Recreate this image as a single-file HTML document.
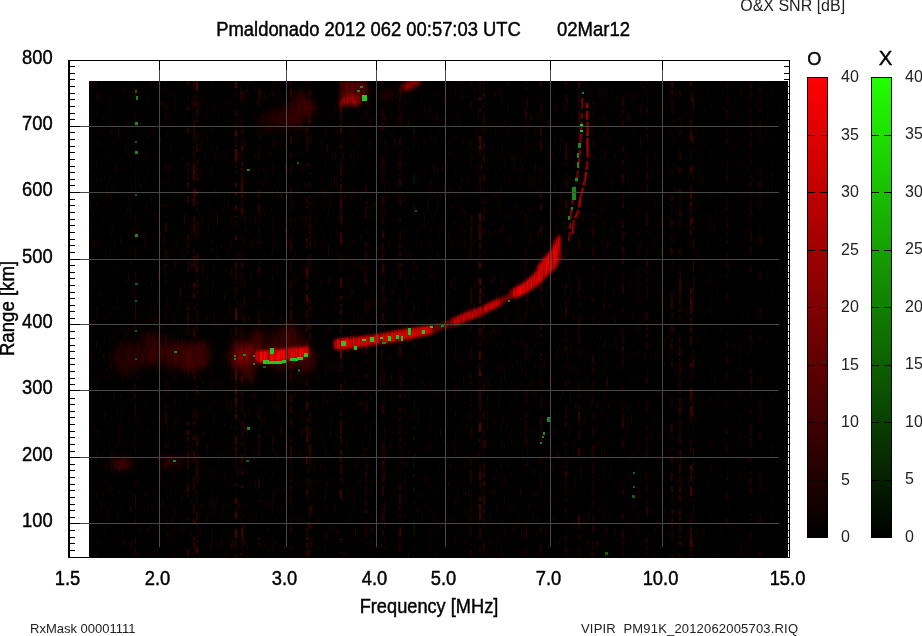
<!DOCTYPE html>
<html><head><meta charset="utf-8"><style>
html,body{margin:0;padding:0;background:#fff;width:922px;height:636px;overflow:hidden}
svg{position:absolute;left:0;top:0;will-change:transform}
text{font-family:"Liberation Sans",sans-serif}
.h{stroke:#000;stroke-width:0.4px;fill:#000}
.l{fill:#222}
</style></head><body>
<svg width="922" height="636" viewBox="0 0 922 636">
<defs>
<linearGradient id="gr" x1="0" y1="0" x2="0" y2="1"><stop offset="0" stop-color="#ff0000"/><stop offset="1" stop-color="#000000"/></linearGradient>
<linearGradient id="gg" x1="0" y1="0" x2="0" y2="1"><stop offset="0" stop-color="#22ff00"/><stop offset="1" stop-color="#000000"/></linearGradient>
<filter id="b05" x="-20%" y="-20%" width="140%" height="140%"><feGaussianBlur stdDeviation="0.5"/></filter>
<filter id="bgn" x="0" y="0" width="1" height="1" filterUnits="objectBoundingBox"><feTurbulence type="fractalNoise" baseFrequency="0.7 0.08" numOctaves="2" seed="9" result="n"/><feColorMatrix in="n" type="matrix" values="0 0 0 0 0.28  0 0 0 0 0  0 0 0 0 0  1.6 0 0 0 -1.0"/><feComposite in2="SourceGraphic" operator="in"/></filter>
<filter id="b07" x="-20%" y="-20%" width="140%" height="140%"><feGaussianBlur stdDeviation="0.7"/></filter>
<filter id="b1" x="-20%" y="-20%" width="140%" height="140%"><feGaussianBlur stdDeviation="1"/></filter>
<filter id="b12" x="-20%" y="-20%" width="140%" height="140%"><feGaussianBlur stdDeviation="1.2"/></filter>
<filter id="b15" x="-20%" y="-20%" width="140%" height="140%"><feGaussianBlur stdDeviation="1.5"/></filter>
<filter id="b2" x="-30%" y="-30%" width="160%" height="160%"><feGaussianBlur stdDeviation="2"/></filter>
<filter id="b3" x="-30%" y="-30%" width="160%" height="160%"><feGaussianBlur stdDeviation="3"/></filter>
<filter id="b4" x="-40%" y="-40%" width="180%" height="180%"><feGaussianBlur stdDeviation="4"/></filter>
<filter id="tex" x="0" y="0" width="1" height="1" filterUnits="objectBoundingBox"><feTurbulence type="fractalNoise" baseFrequency="0.8 0.06" numOctaves="1" seed="5" result="n"/><feColorMatrix in="n" type="matrix" values="0 0 0 0 0  0 0 0 0 0  0 0 0 0 0  1.3 0 0 0 -0.5"/></filter>
<linearGradient id="nm" x1="0" y1="0" x2="1" y2="0"><stop offset="0" stop-color="#fff"/><stop offset="0.7" stop-color="#fff"/><stop offset="1" stop-color="#555"/></linearGradient>
<mask id="nmask" maskUnits="userSpaceOnUse" x="89" y="81" width="699" height="477"><rect x="89" y="81" width="699" height="477" fill="url(#nm)"/></mask>
<clipPath id="dc"><rect x="89" y="81" width="699" height="477"/></clipPath>
</defs>

<text class="h" transform="translate(216.3,35.9) scale(1.022,1.09)" font-size="18" text-anchor="start" >Pmaldonado 2012 062 00:57:03 UTC</text>
<text class="h" transform="translate(557,35.9) scale(1.03,1.09)" font-size="18" text-anchor="start" >02Mar12</text>
<text class="l" transform="translate(740.2,10.6) scale(1.0,1.0)" font-size="16" text-anchor="start" >O&amp;X SNR [dB]</text>
<rect x="89" y="81" width="699" height="477" fill="#000"/>
<g clip-path="url(#dc)">
<rect x="89" y="81" width="699" height="477" fill="#6a0000" filter="url(#bgn)" mask="url(#nmask)"/>
<g filter="url(#b05)">
<rect x="96" y="81" width="1" height="7" fill="#001200"/>
<rect x="96" y="112" width="1" height="2" fill="#000f00"/>
<rect x="96" y="160" width="1" height="8" fill="#000e00"/>
<rect x="96" y="242" width="1" height="3" fill="#000f00"/>
<rect x="96" y="307" width="1" height="8" fill="#001100"/>
<rect x="96" y="324" width="1" height="6" fill="#001000"/>
<rect x="96" y="341" width="1" height="8" fill="#001200"/>
<rect x="96" y="381" width="1" height="9" fill="#001100"/>
<rect x="96" y="430" width="1" height="3" fill="#001200"/>
<rect x="96" y="433" width="1" height="3" fill="#001000"/>
<rect x="96" y="452" width="1" height="9" fill="#001300"/>
<rect x="96" y="494" width="1" height="6" fill="#001300"/>
<rect x="96" y="507" width="1" height="7" fill="#000e00"/>
<rect x="96" y="522" width="1" height="5" fill="#000f00"/>
<rect x="96" y="535" width="1" height="2" fill="#001300"/>
<rect x="96" y="550" width="1" height="9" fill="#000f00"/>
<rect x="110" y="100" width="1" height="9" fill="#001100"/>
<rect x="110" y="111" width="1" height="3" fill="#000f00"/>
<rect x="110" y="114" width="1" height="8" fill="#000e00"/>
<rect x="110" y="123" width="1" height="9" fill="#001100"/>
<rect x="110" y="207" width="1" height="2" fill="#001100"/>
<rect x="110" y="227" width="1" height="9" fill="#000e00"/>
<rect x="110" y="248" width="1" height="9" fill="#000e00"/>
<rect x="110" y="261" width="1" height="2" fill="#000e00"/>
<rect x="110" y="294" width="1" height="5" fill="#000f00"/>
<rect x="110" y="329" width="1" height="3" fill="#001100"/>
<rect x="110" y="350" width="1" height="8" fill="#001000"/>
<rect x="110" y="420" width="1" height="2" fill="#001100"/>
<rect x="110" y="452" width="1" height="6" fill="#001200"/>
<rect x="110" y="486" width="1" height="5" fill="#001200"/>
<rect x="135" y="89" width="1" height="8" fill="#320000"/>
<rect x="135" y="111" width="1" height="8" fill="#2b0000"/>
<rect x="135" y="121" width="1" height="5" fill="#200000"/>
<rect x="135" y="148" width="1" height="7" fill="#310000"/>
<rect x="135" y="179" width="1" height="6" fill="#160000"/>
<rect x="135" y="186" width="1" height="5" fill="#160000"/>
<rect x="135" y="214" width="1" height="8" fill="#240000"/>
<rect x="135" y="230" width="1" height="2" fill="#280000"/>
<rect x="135" y="235" width="1" height="4" fill="#2d0000"/>
<rect x="135" y="244" width="1" height="4" fill="#1d0000"/>
<rect x="135" y="248" width="1" height="8" fill="#290000"/>
<rect x="135" y="256" width="1" height="2" fill="#1d0000"/>
<rect x="135" y="271" width="1" height="3" fill="#240000"/>
<rect x="135" y="274" width="1" height="3" fill="#230000"/>
<rect x="135" y="280" width="1" height="6" fill="#270000"/>
<rect x="135" y="288" width="1" height="5" fill="#220000"/>
<rect x="135" y="294" width="1" height="5" fill="#230000"/>
<rect x="135" y="302" width="1" height="9" fill="#290000"/>
<rect x="135" y="311" width="1" height="9" fill="#2d0000"/>
<rect x="135" y="322" width="1" height="2" fill="#1c0000"/>
<rect x="135" y="325" width="1" height="3" fill="#1b0000"/>
<rect x="135" y="330" width="1" height="6" fill="#1e0000"/>
<rect x="135" y="351" width="1" height="5" fill="#1f0000"/>
<rect x="135" y="358" width="1" height="6" fill="#140000"/>
<rect x="135" y="367" width="1" height="3" fill="#320000"/>
<rect x="135" y="371" width="1" height="6" fill="#310000"/>
<rect x="135" y="382" width="1" height="9" fill="#320000"/>
<rect x="135" y="394" width="1" height="5" fill="#2d0000"/>
<rect x="135" y="400" width="1" height="3" fill="#1a0000"/>
<rect x="135" y="404" width="1" height="6" fill="#300000"/>
<rect x="135" y="411" width="1" height="6" fill="#2c0000"/>
<rect x="135" y="419" width="1" height="5" fill="#160000"/>
<rect x="135" y="435" width="1" height="9" fill="#200000"/>
<rect x="135" y="447" width="1" height="6" fill="#220000"/>
<rect x="135" y="481" width="1" height="2" fill="#2d0000"/>
<rect x="135" y="494" width="1" height="8" fill="#320000"/>
<rect x="135" y="502" width="1" height="7" fill="#2e0000"/>
<rect x="135" y="513" width="1" height="6" fill="#1d0000"/>
<rect x="135" y="520" width="1" height="5" fill="#310000"/>
<rect x="135" y="537" width="1" height="8" fill="#2c0000"/>
<rect x="135" y="548" width="1" height="5" fill="#220000"/>
<rect x="135" y="553" width="1" height="8" fill="#130000"/>
<rect x="165" y="81" width="2" height="6" fill="#120000"/>
<rect x="165" y="88" width="2" height="4" fill="#120000"/>
<rect x="165" y="102" width="2" height="8" fill="#1b0000"/>
<rect x="165" y="112" width="2" height="9" fill="#160000"/>
<rect x="165" y="163" width="2" height="6" fill="#220000"/>
<rect x="165" y="170" width="2" height="2" fill="#1f0000"/>
<rect x="165" y="203" width="2" height="4" fill="#1c0000"/>
<rect x="165" y="223" width="2" height="8" fill="#2a0000"/>
<rect x="165" y="250" width="2" height="9" fill="#2b0000"/>
<rect x="165" y="264" width="2" height="3" fill="#290000"/>
<rect x="165" y="270" width="2" height="3" fill="#150000"/>
<rect x="165" y="273" width="2" height="2" fill="#210000"/>
<rect x="165" y="276" width="2" height="2" fill="#1a0000"/>
<rect x="165" y="280" width="2" height="4" fill="#190000"/>
<rect x="165" y="313" width="2" height="5" fill="#120000"/>
<rect x="165" y="334" width="2" height="9" fill="#260000"/>
<rect x="165" y="359" width="2" height="7" fill="#1e0000"/>
<rect x="165" y="382" width="2" height="6" fill="#200000"/>
<rect x="165" y="389" width="2" height="5" fill="#110000"/>
<rect x="165" y="405" width="2" height="4" fill="#270000"/>
<rect x="165" y="412" width="2" height="8" fill="#280000"/>
<rect x="165" y="420" width="2" height="4" fill="#280000"/>
<rect x="165" y="444" width="2" height="3" fill="#2c0000"/>
<rect x="165" y="463" width="2" height="7" fill="#2c0000"/>
<rect x="165" y="486" width="2" height="3" fill="#160000"/>
<rect x="165" y="527" width="2" height="2" fill="#190000"/>
<rect x="175" y="91" width="1" height="2" fill="#180000"/>
<rect x="175" y="93" width="1" height="9" fill="#140000"/>
<rect x="175" y="105" width="1" height="8" fill="#170000"/>
<rect x="175" y="169" width="1" height="4" fill="#1d0000"/>
<rect x="175" y="203" width="1" height="3" fill="#160000"/>
<rect x="175" y="246" width="1" height="6" fill="#1e0000"/>
<rect x="175" y="253" width="1" height="3" fill="#120000"/>
<rect x="175" y="260" width="1" height="9" fill="#1b0000"/>
<rect x="175" y="315" width="1" height="2" fill="#180000"/>
<rect x="175" y="344" width="1" height="8" fill="#120000"/>
<rect x="175" y="353" width="1" height="3" fill="#120000"/>
<rect x="175" y="373" width="1" height="6" fill="#150000"/>
<rect x="175" y="399" width="1" height="5" fill="#1c0000"/>
<rect x="175" y="421" width="1" height="9" fill="#160000"/>
<rect x="175" y="476" width="1" height="3" fill="#1b0000"/>
<rect x="175" y="508" width="1" height="5" fill="#1d0000"/>
<rect x="175" y="514" width="1" height="2" fill="#1a0000"/>
<rect x="175" y="526" width="1" height="6" fill="#120000"/>
<rect x="187" y="81" width="2" height="4" fill="#320000"/>
<rect x="187" y="93" width="2" height="8" fill="#130000"/>
<rect x="187" y="107" width="2" height="3" fill="#3b0000"/>
<rect x="187" y="128" width="2" height="6" fill="#3d0000"/>
<rect x="187" y="162" width="2" height="5" fill="#220000"/>
<rect x="187" y="168" width="2" height="7" fill="#130000"/>
<rect x="187" y="176" width="2" height="4" fill="#150000"/>
<rect x="187" y="182" width="2" height="7" fill="#390000"/>
<rect x="187" y="196" width="2" height="7" fill="#3e0000"/>
<rect x="187" y="221" width="2" height="4" fill="#130000"/>
<rect x="187" y="234" width="2" height="6" fill="#330000"/>
<rect x="187" y="242" width="2" height="6" fill="#260000"/>
<rect x="187" y="250" width="2" height="2" fill="#2e0000"/>
<rect x="187" y="260" width="2" height="8" fill="#1d0000"/>
<rect x="187" y="268" width="2" height="4" fill="#1b0000"/>
<rect x="187" y="284" width="2" height="5" fill="#160000"/>
<rect x="187" y="303" width="2" height="4" fill="#190000"/>
<rect x="187" y="307" width="2" height="4" fill="#370000"/>
<rect x="187" y="313" width="2" height="8" fill="#320000"/>
<rect x="187" y="321" width="2" height="2" fill="#260000"/>
<rect x="187" y="325" width="2" height="9" fill="#230000"/>
<rect x="187" y="353" width="2" height="2" fill="#3a0000"/>
<rect x="187" y="355" width="2" height="2" fill="#240000"/>
<rect x="187" y="358" width="2" height="4" fill="#160000"/>
<rect x="187" y="365" width="2" height="4" fill="#1d0000"/>
<rect x="187" y="369" width="2" height="6" fill="#250000"/>
<rect x="187" y="378" width="2" height="2" fill="#140000"/>
<rect x="187" y="422" width="2" height="3" fill="#370000"/>
<rect x="187" y="430" width="2" height="5" fill="#3c0000"/>
<rect x="187" y="437" width="2" height="5" fill="#380000"/>
<rect x="187" y="444" width="2" height="5" fill="#140000"/>
<rect x="187" y="452" width="2" height="9" fill="#340000"/>
<rect x="187" y="461" width="2" height="2" fill="#180000"/>
<rect x="187" y="464" width="2" height="6" fill="#310000"/>
<rect x="187" y="473" width="2" height="3" fill="#200000"/>
<rect x="187" y="481" width="2" height="3" fill="#240000"/>
<rect x="187" y="485" width="2" height="7" fill="#3f0000"/>
<rect x="187" y="494" width="2" height="3" fill="#2d0000"/>
<rect x="187" y="518" width="2" height="3" fill="#330000"/>
<rect x="187" y="549" width="2" height="6" fill="#3b0000"/>
<rect x="187" y="555" width="2" height="7" fill="#3a0000"/>
<rect x="193" y="81" width="2" height="6" fill="#2d0000"/>
<rect x="193" y="95" width="2" height="7" fill="#200000"/>
<rect x="193" y="102" width="2" height="5" fill="#360000"/>
<rect x="193" y="113" width="2" height="5" fill="#120000"/>
<rect x="193" y="118" width="2" height="2" fill="#160000"/>
<rect x="193" y="120" width="2" height="9" fill="#340000"/>
<rect x="193" y="130" width="2" height="9" fill="#2b0000"/>
<rect x="193" y="141" width="2" height="4" fill="#110000"/>
<rect x="193" y="146" width="2" height="5" fill="#230000"/>
<rect x="193" y="151" width="2" height="3" fill="#220000"/>
<rect x="193" y="154" width="2" height="7" fill="#170000"/>
<rect x="193" y="164" width="2" height="8" fill="#470000"/>
<rect x="193" y="172" width="2" height="8" fill="#460000"/>
<rect x="193" y="189" width="2" height="8" fill="#480000"/>
<rect x="193" y="198" width="2" height="8" fill="#4f0000"/>
<rect x="193" y="216" width="2" height="7" fill="#2a0000"/>
<rect x="193" y="224" width="2" height="9" fill="#310000"/>
<rect x="193" y="235" width="2" height="4" fill="#200000"/>
<rect x="193" y="249" width="2" height="5" fill="#240000"/>
<rect x="193" y="256" width="2" height="6" fill="#3a0000"/>
<rect x="193" y="263" width="2" height="4" fill="#4f0000"/>
<rect x="193" y="283" width="2" height="4" fill="#4d0000"/>
<rect x="193" y="287" width="2" height="5" fill="#190000"/>
<rect x="193" y="293" width="2" height="6" fill="#380000"/>
<rect x="193" y="329" width="2" height="8" fill="#340000"/>
<rect x="193" y="359" width="2" height="8" fill="#350000"/>
<rect x="193" y="370" width="2" height="5" fill="#320000"/>
<rect x="193" y="376" width="2" height="4" fill="#2f0000"/>
<rect x="193" y="383" width="2" height="8" fill="#140000"/>
<rect x="193" y="409" width="2" height="9" fill="#1f0000"/>
<rect x="193" y="421" width="2" height="4" fill="#470000"/>
<rect x="193" y="427" width="2" height="2" fill="#1a0000"/>
<rect x="193" y="436" width="2" height="4" fill="#360000"/>
<rect x="193" y="451" width="2" height="5" fill="#360000"/>
<rect x="193" y="456" width="2" height="7" fill="#250000"/>
<rect x="193" y="476" width="2" height="8" fill="#240000"/>
<rect x="193" y="484" width="2" height="7" fill="#2f0000"/>
<rect x="193" y="493" width="2" height="6" fill="#190000"/>
<rect x="193" y="504" width="2" height="7" fill="#2a0000"/>
<rect x="193" y="511" width="2" height="5" fill="#130000"/>
<rect x="193" y="519" width="2" height="5" fill="#510000"/>
<rect x="193" y="537" width="2" height="3" fill="#3f0000"/>
<rect x="193" y="541" width="2" height="9" fill="#2f0000"/>
<rect x="193" y="551" width="2" height="4" fill="#170000"/>
<rect x="196" y="81" width="2" height="9" fill="#510000"/>
<rect x="196" y="91" width="2" height="9" fill="#170000"/>
<rect x="196" y="101" width="2" height="6" fill="#350000"/>
<rect x="196" y="109" width="2" height="8" fill="#330000"/>
<rect x="196" y="120" width="2" height="2" fill="#3e0000"/>
<rect x="196" y="133" width="2" height="7" fill="#210000"/>
<rect x="196" y="143" width="2" height="3" fill="#310000"/>
<rect x="196" y="148" width="2" height="4" fill="#4a0000"/>
<rect x="196" y="159" width="2" height="4" fill="#260000"/>
<rect x="196" y="165" width="2" height="2" fill="#310000"/>
<rect x="196" y="168" width="2" height="3" fill="#310000"/>
<rect x="196" y="173" width="2" height="3" fill="#2a0000"/>
<rect x="196" y="177" width="2" height="4" fill="#3c0000"/>
<rect x="196" y="190" width="2" height="4" fill="#2d0000"/>
<rect x="196" y="201" width="2" height="3" fill="#390000"/>
<rect x="196" y="207" width="2" height="3" fill="#280000"/>
<rect x="196" y="221" width="2" height="9" fill="#220000"/>
<rect x="196" y="230" width="2" height="9" fill="#200000"/>
<rect x="196" y="254" width="2" height="9" fill="#340000"/>
<rect x="196" y="266" width="2" height="6" fill="#420000"/>
<rect x="196" y="274" width="2" height="8" fill="#1c0000"/>
<rect x="196" y="282" width="2" height="4" fill="#2f0000"/>
<rect x="196" y="286" width="2" height="2" fill="#2d0000"/>
<rect x="196" y="290" width="2" height="3" fill="#240000"/>
<rect x="196" y="303" width="2" height="4" fill="#160000"/>
<rect x="196" y="309" width="2" height="7" fill="#210000"/>
<rect x="196" y="317" width="2" height="6" fill="#1e0000"/>
<rect x="196" y="326" width="2" height="6" fill="#280000"/>
<rect x="196" y="334" width="2" height="6" fill="#170000"/>
<rect x="196" y="343" width="2" height="8" fill="#150000"/>
<rect x="196" y="353" width="2" height="7" fill="#4f0000"/>
<rect x="196" y="363" width="2" height="3" fill="#150000"/>
<rect x="196" y="374" width="2" height="2" fill="#1b0000"/>
<rect x="196" y="379" width="2" height="2" fill="#1b0000"/>
<rect x="196" y="386" width="2" height="2" fill="#3d0000"/>
<rect x="196" y="391" width="2" height="4" fill="#2e0000"/>
<rect x="196" y="408" width="2" height="2" fill="#1c0000"/>
<rect x="196" y="410" width="2" height="2" fill="#180000"/>
<rect x="196" y="413" width="2" height="6" fill="#280000"/>
<rect x="196" y="434" width="2" height="9" fill="#290000"/>
<rect x="196" y="443" width="2" height="3" fill="#3b0000"/>
<rect x="196" y="449" width="2" height="8" fill="#1f0000"/>
<rect x="196" y="457" width="2" height="8" fill="#2b0000"/>
<rect x="196" y="466" width="2" height="9" fill="#3b0000"/>
<rect x="196" y="475" width="2" height="3" fill="#300000"/>
<rect x="196" y="479" width="2" height="4" fill="#2e0000"/>
<rect x="196" y="491" width="2" height="4" fill="#210000"/>
<rect x="196" y="497" width="2" height="5" fill="#1f0000"/>
<rect x="196" y="503" width="2" height="2" fill="#180000"/>
<rect x="196" y="506" width="2" height="3" fill="#120000"/>
<rect x="196" y="512" width="2" height="9" fill="#320000"/>
<rect x="196" y="523" width="2" height="2" fill="#360000"/>
<rect x="196" y="527" width="2" height="8" fill="#140000"/>
<rect x="196" y="536" width="2" height="9" fill="#2c0000"/>
<rect x="196" y="547" width="2" height="7" fill="#4c0000"/>
<rect x="212" y="81" width="1" height="9" fill="#140000"/>
<rect x="212" y="106" width="1" height="6" fill="#180000"/>
<rect x="212" y="122" width="1" height="2" fill="#1a0000"/>
<rect x="212" y="126" width="1" height="8" fill="#1f0000"/>
<rect x="212" y="146" width="1" height="5" fill="#190000"/>
<rect x="212" y="165" width="1" height="6" fill="#1a0000"/>
<rect x="212" y="172" width="1" height="6" fill="#1f0000"/>
<rect x="212" y="200" width="1" height="6" fill="#110000"/>
<rect x="212" y="209" width="1" height="9" fill="#150000"/>
<rect x="212" y="220" width="1" height="2" fill="#180000"/>
<rect x="212" y="248" width="1" height="4" fill="#190000"/>
<rect x="212" y="263" width="1" height="8" fill="#180000"/>
<rect x="212" y="280" width="1" height="7" fill="#1b0000"/>
<rect x="212" y="289" width="1" height="9" fill="#180000"/>
<rect x="212" y="363" width="1" height="9" fill="#1e0000"/>
<rect x="212" y="372" width="1" height="8" fill="#1d0000"/>
<rect x="212" y="387" width="1" height="3" fill="#1e0000"/>
<rect x="212" y="398" width="1" height="7" fill="#1f0000"/>
<rect x="212" y="428" width="1" height="2" fill="#1e0000"/>
<rect x="212" y="432" width="1" height="9" fill="#170000"/>
<rect x="212" y="472" width="1" height="4" fill="#1d0000"/>
<rect x="212" y="476" width="1" height="9" fill="#150000"/>
<rect x="212" y="489" width="1" height="3" fill="#1e0000"/>
<rect x="212" y="494" width="1" height="4" fill="#180000"/>
<rect x="212" y="498" width="1" height="8" fill="#1a0000"/>
<rect x="212" y="506" width="1" height="9" fill="#1f0000"/>
<rect x="212" y="528" width="1" height="4" fill="#150000"/>
<rect x="212" y="533" width="1" height="9" fill="#1b0000"/>
<rect x="235" y="81" width="2" height="7" fill="#4e0000"/>
<rect x="235" y="111" width="2" height="5" fill="#320000"/>
<rect x="235" y="118" width="2" height="3" fill="#140000"/>
<rect x="235" y="122" width="2" height="7" fill="#250000"/>
<rect x="235" y="131" width="2" height="5" fill="#5c0000"/>
<rect x="235" y="136" width="2" height="8" fill="#170000"/>
<rect x="235" y="145" width="2" height="2" fill="#510000"/>
<rect x="235" y="149" width="2" height="4" fill="#630000"/>
<rect x="235" y="153" width="2" height="9" fill="#4e0000"/>
<rect x="235" y="164" width="2" height="4" fill="#260000"/>
<rect x="235" y="170" width="2" height="4" fill="#1d0000"/>
<rect x="235" y="183" width="2" height="4" fill="#530000"/>
<rect x="235" y="192" width="2" height="3" fill="#580000"/>
<rect x="235" y="205" width="2" height="5" fill="#350000"/>
<rect x="235" y="216" width="2" height="2" fill="#2e0000"/>
<rect x="235" y="220" width="2" height="7" fill="#160000"/>
<rect x="235" y="236" width="2" height="4" fill="#560000"/>
<rect x="235" y="253" width="2" height="2" fill="#1d0000"/>
<rect x="235" y="262" width="2" height="7" fill="#4b0000"/>
<rect x="235" y="272" width="2" height="2" fill="#170000"/>
<rect x="235" y="274" width="2" height="9" fill="#260000"/>
<rect x="235" y="287" width="2" height="5" fill="#390000"/>
<rect x="235" y="293" width="2" height="3" fill="#190000"/>
<rect x="235" y="308" width="2" height="5" fill="#420000"/>
<rect x="235" y="313" width="2" height="7" fill="#560000"/>
<rect x="235" y="321" width="2" height="2" fill="#150000"/>
<rect x="235" y="326" width="2" height="9" fill="#350000"/>
<rect x="235" y="343" width="2" height="4" fill="#300000"/>
<rect x="235" y="364" width="2" height="8" fill="#410000"/>
<rect x="235" y="372" width="2" height="8" fill="#620000"/>
<rect x="235" y="380" width="2" height="7" fill="#1b0000"/>
<rect x="235" y="388" width="2" height="7" fill="#440000"/>
<rect x="235" y="397" width="2" height="8" fill="#530000"/>
<rect x="235" y="405" width="2" height="7" fill="#2e0000"/>
<rect x="235" y="414" width="2" height="5" fill="#560000"/>
<rect x="235" y="427" width="2" height="3" fill="#1a0000"/>
<rect x="235" y="436" width="2" height="8" fill="#4b0000"/>
<rect x="235" y="447" width="2" height="2" fill="#4f0000"/>
<rect x="235" y="449" width="2" height="2" fill="#550000"/>
<rect x="235" y="453" width="2" height="6" fill="#3a0000"/>
<rect x="235" y="459" width="2" height="3" fill="#130000"/>
<rect x="235" y="462" width="2" height="8" fill="#120000"/>
<rect x="235" y="484" width="2" height="3" fill="#280000"/>
<rect x="235" y="498" width="2" height="6" fill="#5b0000"/>
<rect x="235" y="506" width="2" height="6" fill="#120000"/>
<rect x="235" y="512" width="2" height="6" fill="#520000"/>
<rect x="235" y="529" width="2" height="9" fill="#580000"/>
<rect x="235" y="540" width="2" height="9" fill="#290000"/>
<rect x="235" y="551" width="2" height="2" fill="#120000"/>
<rect x="235" y="554" width="2" height="5" fill="#2d0000"/>
<rect x="241" y="91" width="2" height="4" fill="#400000"/>
<rect x="241" y="96" width="2" height="7" fill="#260000"/>
<rect x="241" y="119" width="2" height="4" fill="#250000"/>
<rect x="241" y="125" width="2" height="9" fill="#2e0000"/>
<rect x="241" y="137" width="2" height="9" fill="#160000"/>
<rect x="241" y="146" width="2" height="5" fill="#4c0000"/>
<rect x="241" y="152" width="2" height="8" fill="#150000"/>
<rect x="241" y="162" width="2" height="4" fill="#300000"/>
<rect x="241" y="168" width="2" height="3" fill="#350000"/>
<rect x="241" y="174" width="2" height="6" fill="#390000"/>
<rect x="241" y="181" width="2" height="8" fill="#410000"/>
<rect x="241" y="189" width="2" height="8" fill="#380000"/>
<rect x="241" y="197" width="2" height="9" fill="#190000"/>
<rect x="241" y="207" width="2" height="8" fill="#3f0000"/>
<rect x="241" y="217" width="2" height="3" fill="#180000"/>
<rect x="241" y="234" width="2" height="6" fill="#160000"/>
<rect x="241" y="253" width="2" height="8" fill="#1d0000"/>
<rect x="241" y="262" width="2" height="6" fill="#3b0000"/>
<rect x="241" y="271" width="2" height="8" fill="#280000"/>
<rect x="241" y="279" width="2" height="7" fill="#140000"/>
<rect x="241" y="301" width="2" height="9" fill="#120000"/>
<rect x="241" y="312" width="2" height="8" fill="#230000"/>
<rect x="241" y="323" width="2" height="8" fill="#1e0000"/>
<rect x="241" y="331" width="2" height="7" fill="#1d0000"/>
<rect x="241" y="338" width="2" height="3" fill="#230000"/>
<rect x="241" y="341" width="2" height="8" fill="#170000"/>
<rect x="241" y="352" width="2" height="4" fill="#420000"/>
<rect x="241" y="359" width="2" height="9" fill="#190000"/>
<rect x="241" y="375" width="2" height="7" fill="#4b0000"/>
<rect x="241" y="390" width="2" height="7" fill="#3d0000"/>
<rect x="241" y="400" width="2" height="4" fill="#230000"/>
<rect x="241" y="405" width="2" height="5" fill="#1a0000"/>
<rect x="241" y="410" width="2" height="3" fill="#160000"/>
<rect x="241" y="421" width="2" height="6" fill="#330000"/>
<rect x="241" y="427" width="2" height="6" fill="#190000"/>
<rect x="241" y="433" width="2" height="2" fill="#2f0000"/>
<rect x="241" y="436" width="2" height="4" fill="#210000"/>
<rect x="241" y="442" width="2" height="4" fill="#270000"/>
<rect x="241" y="455" width="2" height="9" fill="#3d0000"/>
<rect x="241" y="467" width="2" height="2" fill="#2e0000"/>
<rect x="241" y="471" width="2" height="4" fill="#330000"/>
<rect x="241" y="485" width="2" height="3" fill="#400000"/>
<rect x="241" y="503" width="2" height="2" fill="#1c0000"/>
<rect x="241" y="512" width="2" height="4" fill="#130000"/>
<rect x="241" y="519" width="2" height="6" fill="#1b0000"/>
<rect x="241" y="527" width="2" height="9" fill="#4b0000"/>
<rect x="241" y="536" width="2" height="5" fill="#300000"/>
<rect x="241" y="542" width="2" height="8" fill="#120000"/>
<rect x="241" y="553" width="2" height="2" fill="#3a0000"/>
<rect x="244" y="91" width="1" height="8" fill="#1c0000"/>
<rect x="244" y="99" width="1" height="7" fill="#1a0000"/>
<rect x="244" y="109" width="1" height="7" fill="#130000"/>
<rect x="244" y="116" width="1" height="3" fill="#140000"/>
<rect x="244" y="121" width="1" height="5" fill="#120000"/>
<rect x="244" y="140" width="1" height="7" fill="#2c0000"/>
<rect x="244" y="154" width="1" height="4" fill="#1c0000"/>
<rect x="244" y="168" width="1" height="5" fill="#260000"/>
<rect x="244" y="192" width="1" height="4" fill="#350000"/>
<rect x="244" y="198" width="1" height="9" fill="#1e0000"/>
<rect x="244" y="209" width="1" height="5" fill="#130000"/>
<rect x="244" y="215" width="1" height="4" fill="#300000"/>
<rect x="244" y="219" width="1" height="3" fill="#1b0000"/>
<rect x="244" y="239" width="1" height="4" fill="#2a0000"/>
<rect x="244" y="251" width="1" height="3" fill="#1c0000"/>
<rect x="244" y="279" width="1" height="9" fill="#2a0000"/>
<rect x="244" y="297" width="1" height="7" fill="#320000"/>
<rect x="244" y="316" width="1" height="7" fill="#320000"/>
<rect x="244" y="329" width="1" height="5" fill="#260000"/>
<rect x="244" y="353" width="1" height="4" fill="#110000"/>
<rect x="244" y="357" width="1" height="6" fill="#200000"/>
<rect x="244" y="364" width="1" height="5" fill="#1d0000"/>
<rect x="244" y="371" width="1" height="8" fill="#230000"/>
<rect x="244" y="385" width="1" height="2" fill="#300000"/>
<rect x="244" y="387" width="1" height="5" fill="#240000"/>
<rect x="244" y="401" width="1" height="3" fill="#140000"/>
<rect x="244" y="412" width="1" height="7" fill="#350000"/>
<rect x="244" y="422" width="1" height="9" fill="#340000"/>
<rect x="244" y="434" width="1" height="2" fill="#230000"/>
<rect x="244" y="437" width="1" height="8" fill="#230000"/>
<rect x="244" y="446" width="1" height="9" fill="#290000"/>
<rect x="244" y="462" width="1" height="5" fill="#1b0000"/>
<rect x="244" y="499" width="1" height="2" fill="#190000"/>
<rect x="244" y="504" width="1" height="4" fill="#340000"/>
<rect x="244" y="522" width="1" height="8" fill="#290000"/>
<rect x="244" y="531" width="1" height="4" fill="#1e0000"/>
<rect x="244" y="538" width="1" height="8" fill="#2d0000"/>
<rect x="258" y="89" width="2" height="9" fill="#300000"/>
<rect x="258" y="99" width="2" height="7" fill="#130000"/>
<rect x="258" y="119" width="2" height="3" fill="#230000"/>
<rect x="258" y="133" width="2" height="8" fill="#150000"/>
<rect x="258" y="145" width="2" height="6" fill="#1d0000"/>
<rect x="258" y="158" width="2" height="2" fill="#250000"/>
<rect x="258" y="168" width="2" height="3" fill="#260000"/>
<rect x="258" y="190" width="2" height="7" fill="#290000"/>
<rect x="258" y="204" width="2" height="8" fill="#2d0000"/>
<rect x="258" y="213" width="2" height="9" fill="#120000"/>
<rect x="258" y="223" width="2" height="6" fill="#1b0000"/>
<rect x="258" y="229" width="2" height="4" fill="#200000"/>
<rect x="258" y="234" width="2" height="4" fill="#130000"/>
<rect x="258" y="241" width="2" height="3" fill="#310000"/>
<rect x="258" y="267" width="2" height="8" fill="#2c0000"/>
<rect x="258" y="289" width="2" height="9" fill="#270000"/>
<rect x="258" y="300" width="2" height="5" fill="#140000"/>
<rect x="258" y="307" width="2" height="9" fill="#120000"/>
<rect x="258" y="317" width="2" height="8" fill="#300000"/>
<rect x="258" y="325" width="2" height="2" fill="#220000"/>
<rect x="258" y="329" width="2" height="6" fill="#190000"/>
<rect x="258" y="338" width="2" height="7" fill="#150000"/>
<rect x="258" y="346" width="2" height="6" fill="#2a0000"/>
<rect x="258" y="411" width="2" height="5" fill="#180000"/>
<rect x="258" y="416" width="2" height="3" fill="#2a0000"/>
<rect x="258" y="428" width="2" height="3" fill="#140000"/>
<rect x="258" y="434" width="2" height="4" fill="#310000"/>
<rect x="258" y="439" width="2" height="9" fill="#250000"/>
<rect x="258" y="449" width="2" height="7" fill="#250000"/>
<rect x="258" y="479" width="2" height="8" fill="#2d0000"/>
<rect x="258" y="487" width="2" height="5" fill="#190000"/>
<rect x="258" y="500" width="2" height="2" fill="#280000"/>
<rect x="258" y="538" width="2" height="2" fill="#290000"/>
<rect x="258" y="543" width="2" height="3" fill="#260000"/>
<rect x="272" y="81" width="1" height="8" fill="#1d0000"/>
<rect x="272" y="91" width="1" height="6" fill="#220000"/>
<rect x="272" y="114" width="1" height="9" fill="#230000"/>
<rect x="272" y="142" width="1" height="6" fill="#200000"/>
<rect x="272" y="167" width="1" height="8" fill="#210000"/>
<rect x="272" y="190" width="1" height="9" fill="#1f0000"/>
<rect x="272" y="199" width="1" height="4" fill="#190000"/>
<rect x="272" y="217" width="1" height="2" fill="#210000"/>
<rect x="272" y="219" width="1" height="5" fill="#1b0000"/>
<rect x="272" y="224" width="1" height="7" fill="#1b0000"/>
<rect x="272" y="232" width="1" height="4" fill="#170000"/>
<rect x="272" y="238" width="1" height="7" fill="#190000"/>
<rect x="272" y="246" width="1" height="7" fill="#1f0000"/>
<rect x="272" y="265" width="1" height="7" fill="#1f0000"/>
<rect x="272" y="275" width="1" height="7" fill="#200000"/>
<rect x="272" y="291" width="1" height="2" fill="#1f0000"/>
<rect x="272" y="306" width="1" height="4" fill="#130000"/>
<rect x="272" y="311" width="1" height="6" fill="#180000"/>
<rect x="272" y="327" width="1" height="3" fill="#130000"/>
<rect x="272" y="332" width="1" height="7" fill="#240000"/>
<rect x="272" y="341" width="1" height="8" fill="#180000"/>
<rect x="272" y="359" width="1" height="6" fill="#200000"/>
<rect x="272" y="365" width="1" height="4" fill="#140000"/>
<rect x="272" y="389" width="1" height="4" fill="#130000"/>
<rect x="272" y="393" width="1" height="3" fill="#1c0000"/>
<rect x="272" y="404" width="1" height="2" fill="#150000"/>
<rect x="272" y="433" width="1" height="9" fill="#240000"/>
<rect x="272" y="445" width="1" height="6" fill="#220000"/>
<rect x="272" y="451" width="1" height="2" fill="#210000"/>
<rect x="272" y="469" width="1" height="7" fill="#1c0000"/>
<rect x="272" y="496" width="1" height="9" fill="#1a0000"/>
<rect x="272" y="507" width="1" height="9" fill="#120000"/>
<rect x="272" y="535" width="1" height="4" fill="#240000"/>
<rect x="272" y="540" width="1" height="8" fill="#1a0000"/>
<rect x="272" y="548" width="1" height="2" fill="#140000"/>
<rect x="290" y="81" width="2" height="4" fill="#2d0000"/>
<rect x="290" y="89" width="2" height="9" fill="#310000"/>
<rect x="290" y="101" width="2" height="5" fill="#1d0000"/>
<rect x="290" y="108" width="2" height="8" fill="#140000"/>
<rect x="290" y="120" width="2" height="3" fill="#270000"/>
<rect x="290" y="136" width="2" height="8" fill="#2d0000"/>
<rect x="290" y="152" width="2" height="6" fill="#210000"/>
<rect x="290" y="166" width="2" height="8" fill="#1e0000"/>
<rect x="290" y="186" width="2" height="9" fill="#2a0000"/>
<rect x="290" y="197" width="2" height="4" fill="#280000"/>
<rect x="290" y="217" width="2" height="5" fill="#1a0000"/>
<rect x="290" y="233" width="2" height="4" fill="#120000"/>
<rect x="290" y="238" width="2" height="6" fill="#200000"/>
<rect x="290" y="244" width="2" height="4" fill="#310000"/>
<rect x="290" y="248" width="2" height="4" fill="#2d0000"/>
<rect x="290" y="261" width="2" height="9" fill="#200000"/>
<rect x="290" y="281" width="2" height="7" fill="#310000"/>
<rect x="290" y="296" width="2" height="8" fill="#210000"/>
<rect x="290" y="304" width="2" height="2" fill="#320000"/>
<rect x="290" y="308" width="2" height="3" fill="#2b0000"/>
<rect x="290" y="311" width="2" height="9" fill="#310000"/>
<rect x="290" y="326" width="2" height="3" fill="#170000"/>
<rect x="290" y="336" width="2" height="5" fill="#230000"/>
<rect x="290" y="349" width="2" height="3" fill="#300000"/>
<rect x="290" y="363" width="2" height="9" fill="#180000"/>
<rect x="290" y="374" width="2" height="8" fill="#310000"/>
<rect x="290" y="384" width="2" height="8" fill="#120000"/>
<rect x="290" y="395" width="2" height="8" fill="#310000"/>
<rect x="290" y="406" width="2" height="8" fill="#2b0000"/>
<rect x="290" y="419" width="2" height="8" fill="#320000"/>
<rect x="290" y="435" width="2" height="9" fill="#180000"/>
<rect x="290" y="446" width="2" height="9" fill="#310000"/>
<rect x="290" y="455" width="2" height="9" fill="#230000"/>
<rect x="290" y="467" width="2" height="7" fill="#1b0000"/>
<rect x="290" y="477" width="2" height="5" fill="#280000"/>
<rect x="290" y="485" width="2" height="7" fill="#210000"/>
<rect x="290" y="495" width="2" height="6" fill="#1c0000"/>
<rect x="290" y="503" width="2" height="3" fill="#1d0000"/>
<rect x="290" y="516" width="2" height="7" fill="#170000"/>
<rect x="290" y="526" width="2" height="5" fill="#320000"/>
<rect x="290" y="531" width="2" height="7" fill="#170000"/>
<rect x="290" y="547" width="2" height="4" fill="#280000"/>
<rect x="290" y="554" width="2" height="4" fill="#1d0000"/>
<rect x="306" y="81" width="2" height="7" fill="#190000"/>
<rect x="306" y="91" width="2" height="3" fill="#1b0000"/>
<rect x="306" y="106" width="2" height="6" fill="#1f0000"/>
<rect x="306" y="112" width="2" height="6" fill="#1a0000"/>
<rect x="306" y="121" width="2" height="3" fill="#1f0000"/>
<rect x="306" y="127" width="2" height="4" fill="#3a0000"/>
<rect x="306" y="132" width="2" height="2" fill="#330000"/>
<rect x="306" y="136" width="2" height="9" fill="#250000"/>
<rect x="306" y="146" width="2" height="7" fill="#250000"/>
<rect x="306" y="163" width="2" height="2" fill="#290000"/>
<rect x="306" y="165" width="2" height="4" fill="#130000"/>
<rect x="306" y="198" width="2" height="6" fill="#2d0000"/>
<rect x="306" y="206" width="2" height="2" fill="#360000"/>
<rect x="306" y="220" width="2" height="8" fill="#1d0000"/>
<rect x="306" y="238" width="2" height="5" fill="#4f0000"/>
<rect x="306" y="245" width="2" height="3" fill="#320000"/>
<rect x="306" y="256" width="2" height="8" fill="#1a0000"/>
<rect x="306" y="267" width="2" height="9" fill="#4b0000"/>
<rect x="306" y="276" width="2" height="3" fill="#2b0000"/>
<rect x="306" y="282" width="2" height="9" fill="#350000"/>
<rect x="306" y="294" width="2" height="8" fill="#510000"/>
<rect x="306" y="303" width="2" height="3" fill="#1e0000"/>
<rect x="306" y="309" width="2" height="4" fill="#240000"/>
<rect x="306" y="313" width="2" height="5" fill="#380000"/>
<rect x="306" y="321" width="2" height="2" fill="#4a0000"/>
<rect x="306" y="325" width="2" height="7" fill="#3b0000"/>
<rect x="306" y="340" width="2" height="5" fill="#290000"/>
<rect x="306" y="345" width="2" height="5" fill="#360000"/>
<rect x="306" y="353" width="2" height="2" fill="#270000"/>
<rect x="306" y="358" width="2" height="4" fill="#510000"/>
<rect x="306" y="362" width="2" height="4" fill="#140000"/>
<rect x="306" y="380" width="2" height="6" fill="#310000"/>
<rect x="306" y="388" width="2" height="8" fill="#240000"/>
<rect x="306" y="399" width="2" height="2" fill="#130000"/>
<rect x="306" y="402" width="2" height="8" fill="#3e0000"/>
<rect x="306" y="418" width="2" height="5" fill="#260000"/>
<rect x="306" y="425" width="2" height="9" fill="#310000"/>
<rect x="306" y="435" width="2" height="7" fill="#4a0000"/>
<rect x="306" y="444" width="2" height="5" fill="#1f0000"/>
<rect x="306" y="456" width="2" height="8" fill="#4c0000"/>
<rect x="306" y="478" width="2" height="9" fill="#1b0000"/>
<rect x="306" y="490" width="2" height="5" fill="#450000"/>
<rect x="306" y="495" width="2" height="4" fill="#1d0000"/>
<rect x="306" y="522" width="2" height="5" fill="#260000"/>
<rect x="306" y="528" width="2" height="4" fill="#3c0000"/>
<rect x="306" y="533" width="2" height="3" fill="#200000"/>
<rect x="306" y="537" width="2" height="3" fill="#4c0000"/>
<rect x="306" y="543" width="2" height="5" fill="#310000"/>
<rect x="306" y="550" width="2" height="9" fill="#330000"/>
<rect x="309" y="81" width="2" height="2" fill="#3b0000"/>
<rect x="309" y="89" width="2" height="6" fill="#2e0000"/>
<rect x="309" y="103" width="2" height="7" fill="#1f0000"/>
<rect x="309" y="111" width="2" height="4" fill="#3d0000"/>
<rect x="309" y="116" width="2" height="8" fill="#3f0000"/>
<rect x="309" y="136" width="2" height="5" fill="#270000"/>
<rect x="309" y="141" width="2" height="5" fill="#1a0000"/>
<rect x="309" y="163" width="2" height="3" fill="#270000"/>
<rect x="309" y="172" width="2" height="2" fill="#2e0000"/>
<rect x="309" y="182" width="2" height="6" fill="#230000"/>
<rect x="309" y="195" width="2" height="5" fill="#210000"/>
<rect x="309" y="202" width="2" height="2" fill="#210000"/>
<rect x="309" y="204" width="2" height="2" fill="#120000"/>
<rect x="309" y="215" width="2" height="7" fill="#190000"/>
<rect x="309" y="223" width="2" height="7" fill="#2d0000"/>
<rect x="309" y="231" width="2" height="3" fill="#310000"/>
<rect x="309" y="236" width="2" height="3" fill="#2c0000"/>
<rect x="309" y="242" width="2" height="3" fill="#2d0000"/>
<rect x="309" y="245" width="2" height="4" fill="#230000"/>
<rect x="309" y="254" width="2" height="8" fill="#260000"/>
<rect x="309" y="263" width="2" height="8" fill="#210000"/>
<rect x="309" y="273" width="2" height="3" fill="#140000"/>
<rect x="309" y="300" width="2" height="3" fill="#370000"/>
<rect x="309" y="303" width="2" height="4" fill="#1c0000"/>
<rect x="309" y="307" width="2" height="7" fill="#1a0000"/>
<rect x="309" y="315" width="2" height="2" fill="#1c0000"/>
<rect x="309" y="325" width="2" height="4" fill="#3a0000"/>
<rect x="309" y="333" width="2" height="9" fill="#310000"/>
<rect x="309" y="349" width="2" height="4" fill="#350000"/>
<rect x="309" y="353" width="2" height="8" fill="#150000"/>
<rect x="309" y="361" width="2" height="6" fill="#210000"/>
<rect x="309" y="367" width="2" height="3" fill="#270000"/>
<rect x="309" y="387" width="2" height="6" fill="#120000"/>
<rect x="309" y="412" width="2" height="4" fill="#2d0000"/>
<rect x="309" y="417" width="2" height="4" fill="#310000"/>
<rect x="309" y="428" width="2" height="7" fill="#2b0000"/>
<rect x="309" y="435" width="2" height="2" fill="#310000"/>
<rect x="309" y="440" width="2" height="2" fill="#1c0000"/>
<rect x="309" y="444" width="2" height="3" fill="#2e0000"/>
<rect x="309" y="447" width="2" height="5" fill="#360000"/>
<rect x="309" y="452" width="2" height="7" fill="#300000"/>
<rect x="309" y="459" width="2" height="7" fill="#220000"/>
<rect x="309" y="480" width="2" height="2" fill="#2d0000"/>
<rect x="309" y="483" width="2" height="8" fill="#140000"/>
<rect x="309" y="506" width="2" height="5" fill="#370000"/>
<rect x="309" y="511" width="2" height="8" fill="#270000"/>
<rect x="309" y="522" width="2" height="7" fill="#330000"/>
<rect x="309" y="537" width="2" height="8" fill="#310000"/>
<rect x="309" y="545" width="2" height="6" fill="#1b0000"/>
<rect x="309" y="551" width="2" height="3" fill="#370000"/>
<rect x="325" y="118" width="1" height="8" fill="#160000"/>
<rect x="325" y="130" width="1" height="8" fill="#1d0000"/>
<rect x="325" y="167" width="1" height="5" fill="#1e0000"/>
<rect x="325" y="186" width="1" height="9" fill="#120000"/>
<rect x="325" y="197" width="1" height="7" fill="#160000"/>
<rect x="325" y="207" width="1" height="4" fill="#210000"/>
<rect x="325" y="244" width="1" height="2" fill="#200000"/>
<rect x="325" y="258" width="1" height="2" fill="#1f0000"/>
<rect x="325" y="310" width="1" height="8" fill="#110000"/>
<rect x="325" y="321" width="1" height="3" fill="#1c0000"/>
<rect x="325" y="327" width="1" height="9" fill="#230000"/>
<rect x="325" y="347" width="1" height="2" fill="#1b0000"/>
<rect x="325" y="360" width="1" height="6" fill="#200000"/>
<rect x="325" y="368" width="1" height="8" fill="#1b0000"/>
<rect x="325" y="385" width="1" height="5" fill="#140000"/>
<rect x="325" y="435" width="1" height="4" fill="#1b0000"/>
<rect x="325" y="446" width="1" height="8" fill="#1a0000"/>
<rect x="325" y="467" width="1" height="6" fill="#1e0000"/>
<rect x="325" y="483" width="1" height="7" fill="#130000"/>
<rect x="325" y="492" width="1" height="6" fill="#230000"/>
<rect x="325" y="498" width="1" height="3" fill="#1a0000"/>
<rect x="325" y="504" width="1" height="3" fill="#210000"/>
<rect x="325" y="508" width="1" height="4" fill="#230000"/>
<rect x="325" y="532" width="1" height="7" fill="#1e0000"/>
<rect x="325" y="540" width="1" height="8" fill="#160000"/>
<rect x="340" y="81" width="2" height="5" fill="#2f0000"/>
<rect x="340" y="89" width="2" height="5" fill="#2f0000"/>
<rect x="340" y="101" width="2" height="3" fill="#500000"/>
<rect x="340" y="104" width="2" height="8" fill="#4e0000"/>
<rect x="340" y="113" width="2" height="8" fill="#320000"/>
<rect x="340" y="123" width="2" height="3" fill="#430000"/>
<rect x="340" y="128" width="2" height="5" fill="#510000"/>
<rect x="340" y="135" width="2" height="3" fill="#1a0000"/>
<rect x="340" y="145" width="2" height="3" fill="#4a0000"/>
<rect x="340" y="156" width="2" height="9" fill="#130000"/>
<rect x="340" y="165" width="2" height="9" fill="#300000"/>
<rect x="340" y="174" width="2" height="2" fill="#2b0000"/>
<rect x="340" y="179" width="2" height="3" fill="#260000"/>
<rect x="340" y="184" width="2" height="7" fill="#570000"/>
<rect x="340" y="192" width="2" height="5" fill="#2d0000"/>
<rect x="340" y="198" width="2" height="6" fill="#4a0000"/>
<rect x="340" y="204" width="2" height="5" fill="#430000"/>
<rect x="340" y="209" width="2" height="6" fill="#200000"/>
<rect x="340" y="215" width="2" height="6" fill="#3e0000"/>
<rect x="340" y="221" width="2" height="8" fill="#1d0000"/>
<rect x="340" y="232" width="2" height="5" fill="#380000"/>
<rect x="340" y="237" width="2" height="7" fill="#570000"/>
<rect x="340" y="255" width="2" height="4" fill="#210000"/>
<rect x="340" y="262" width="2" height="5" fill="#190000"/>
<rect x="340" y="268" width="2" height="3" fill="#1e0000"/>
<rect x="340" y="278" width="2" height="9" fill="#430000"/>
<rect x="340" y="296" width="2" height="2" fill="#530000"/>
<rect x="340" y="298" width="2" height="3" fill="#1a0000"/>
<rect x="340" y="304" width="2" height="2" fill="#490000"/>
<rect x="340" y="308" width="2" height="7" fill="#340000"/>
<rect x="340" y="317" width="2" height="7" fill="#160000"/>
<rect x="340" y="324" width="2" height="4" fill="#3a0000"/>
<rect x="340" y="331" width="2" height="2" fill="#460000"/>
<rect x="340" y="336" width="2" height="3" fill="#190000"/>
<rect x="340" y="340" width="2" height="7" fill="#430000"/>
<rect x="340" y="350" width="2" height="9" fill="#5a0000"/>
<rect x="340" y="361" width="2" height="7" fill="#250000"/>
<rect x="340" y="369" width="2" height="3" fill="#2a0000"/>
<rect x="340" y="384" width="2" height="2" fill="#540000"/>
<rect x="340" y="387" width="2" height="6" fill="#550000"/>
<rect x="340" y="411" width="2" height="5" fill="#3e0000"/>
<rect x="340" y="421" width="2" height="9" fill="#440000"/>
<rect x="340" y="431" width="2" height="3" fill="#4c0000"/>
<rect x="340" y="436" width="2" height="9" fill="#260000"/>
<rect x="340" y="450" width="2" height="8" fill="#4e0000"/>
<rect x="340" y="458" width="2" height="4" fill="#550000"/>
<rect x="340" y="465" width="2" height="9" fill="#2e0000"/>
<rect x="340" y="477" width="2" height="3" fill="#2e0000"/>
<rect x="340" y="490" width="2" height="9" fill="#3b0000"/>
<rect x="340" y="538" width="2" height="2" fill="#540000"/>
<rect x="340" y="552" width="2" height="2" fill="#250000"/>
<rect x="353" y="96" width="1" height="2" fill="#160000"/>
<rect x="353" y="123" width="1" height="8" fill="#230000"/>
<rect x="353" y="131" width="1" height="7" fill="#170000"/>
<rect x="353" y="138" width="1" height="5" fill="#1e0000"/>
<rect x="353" y="148" width="1" height="6" fill="#1a0000"/>
<rect x="353" y="155" width="1" height="9" fill="#140000"/>
<rect x="353" y="185" width="1" height="5" fill="#210000"/>
<rect x="353" y="190" width="1" height="2" fill="#1d0000"/>
<rect x="353" y="192" width="1" height="4" fill="#1e0000"/>
<rect x="353" y="213" width="1" height="6" fill="#1b0000"/>
<rect x="353" y="257" width="1" height="7" fill="#1b0000"/>
<rect x="353" y="270" width="1" height="8" fill="#140000"/>
<rect x="353" y="290" width="1" height="5" fill="#220000"/>
<rect x="353" y="298" width="1" height="3" fill="#150000"/>
<rect x="353" y="302" width="1" height="6" fill="#1a0000"/>
<rect x="353" y="314" width="1" height="4" fill="#140000"/>
<rect x="353" y="319" width="1" height="6" fill="#1a0000"/>
<rect x="353" y="333" width="1" height="3" fill="#170000"/>
<rect x="353" y="337" width="1" height="6" fill="#140000"/>
<rect x="353" y="344" width="1" height="3" fill="#130000"/>
<rect x="353" y="358" width="1" height="4" fill="#120000"/>
<rect x="353" y="365" width="1" height="6" fill="#210000"/>
<rect x="353" y="374" width="1" height="4" fill="#200000"/>
<rect x="353" y="387" width="1" height="9" fill="#240000"/>
<rect x="353" y="409" width="1" height="3" fill="#1e0000"/>
<rect x="353" y="426" width="1" height="4" fill="#1b0000"/>
<rect x="353" y="487" width="1" height="5" fill="#200000"/>
<rect x="353" y="493" width="1" height="6" fill="#1a0000"/>
<rect x="353" y="499" width="1" height="5" fill="#150000"/>
<rect x="353" y="505" width="1" height="8" fill="#1e0000"/>
<rect x="353" y="556" width="1" height="9" fill="#210000"/>
<rect x="365" y="81" width="2" height="8" fill="#130000"/>
<rect x="365" y="96" width="2" height="9" fill="#140000"/>
<rect x="365" y="110" width="2" height="9" fill="#230000"/>
<rect x="365" y="185" width="2" height="2" fill="#1e0000"/>
<rect x="365" y="187" width="2" height="5" fill="#250000"/>
<rect x="365" y="202" width="2" height="2" fill="#2a0000"/>
<rect x="365" y="206" width="2" height="4" fill="#210000"/>
<rect x="365" y="210" width="2" height="9" fill="#2d0000"/>
<rect x="365" y="228" width="2" height="6" fill="#120000"/>
<rect x="365" y="242" width="2" height="5" fill="#2f0000"/>
<rect x="365" y="250" width="2" height="2" fill="#200000"/>
<rect x="365" y="252" width="2" height="7" fill="#2f0000"/>
<rect x="365" y="260" width="2" height="3" fill="#140000"/>
<rect x="365" y="266" width="2" height="5" fill="#1c0000"/>
<rect x="365" y="272" width="2" height="5" fill="#290000"/>
<rect x="365" y="278" width="2" height="6" fill="#320000"/>
<rect x="365" y="299" width="2" height="8" fill="#1f0000"/>
<rect x="365" y="307" width="2" height="7" fill="#250000"/>
<rect x="365" y="319" width="2" height="9" fill="#140000"/>
<rect x="365" y="335" width="2" height="6" fill="#300000"/>
<rect x="365" y="342" width="2" height="4" fill="#320000"/>
<rect x="365" y="347" width="2" height="7" fill="#2c0000"/>
<rect x="365" y="359" width="2" height="3" fill="#1a0000"/>
<rect x="365" y="374" width="2" height="4" fill="#300000"/>
<rect x="365" y="391" width="2" height="3" fill="#310000"/>
<rect x="365" y="400" width="2" height="4" fill="#120000"/>
<rect x="365" y="407" width="2" height="6" fill="#270000"/>
<rect x="365" y="424" width="2" height="5" fill="#120000"/>
<rect x="365" y="448" width="2" height="3" fill="#210000"/>
<rect x="365" y="462" width="2" height="2" fill="#130000"/>
<rect x="365" y="466" width="2" height="4" fill="#140000"/>
<rect x="365" y="472" width="2" height="5" fill="#310000"/>
<rect x="365" y="477" width="2" height="5" fill="#180000"/>
<rect x="365" y="485" width="2" height="4" fill="#2c0000"/>
<rect x="365" y="490" width="2" height="7" fill="#230000"/>
<rect x="365" y="499" width="2" height="8" fill="#1f0000"/>
<rect x="365" y="509" width="2" height="4" fill="#320000"/>
<rect x="365" y="521" width="2" height="8" fill="#1c0000"/>
<rect x="365" y="529" width="2" height="9" fill="#1a0000"/>
<rect x="370" y="81" width="1" height="2" fill="#160000"/>
<rect x="370" y="94" width="1" height="5" fill="#150000"/>
<rect x="370" y="100" width="1" height="7" fill="#1a0000"/>
<rect x="370" y="115" width="1" height="9" fill="#1e0000"/>
<rect x="370" y="124" width="1" height="5" fill="#200000"/>
<rect x="370" y="146" width="1" height="6" fill="#200000"/>
<rect x="370" y="155" width="1" height="3" fill="#230000"/>
<rect x="370" y="192" width="1" height="3" fill="#140000"/>
<rect x="370" y="197" width="1" height="4" fill="#1b0000"/>
<rect x="370" y="211" width="1" height="5" fill="#140000"/>
<rect x="370" y="216" width="1" height="4" fill="#1d0000"/>
<rect x="370" y="246" width="1" height="5" fill="#1b0000"/>
<rect x="370" y="254" width="1" height="9" fill="#1b0000"/>
<rect x="370" y="264" width="1" height="3" fill="#1d0000"/>
<rect x="370" y="287" width="1" height="5" fill="#1a0000"/>
<rect x="370" y="295" width="1" height="7" fill="#180000"/>
<rect x="370" y="302" width="1" height="5" fill="#180000"/>
<rect x="370" y="317" width="1" height="5" fill="#200000"/>
<rect x="370" y="323" width="1" height="6" fill="#240000"/>
<rect x="370" y="336" width="1" height="9" fill="#1a0000"/>
<rect x="370" y="357" width="1" height="2" fill="#1b0000"/>
<rect x="370" y="383" width="1" height="3" fill="#1b0000"/>
<rect x="370" y="397" width="1" height="3" fill="#160000"/>
<rect x="370" y="421" width="1" height="8" fill="#1a0000"/>
<rect x="370" y="431" width="1" height="9" fill="#1b0000"/>
<rect x="370" y="447" width="1" height="3" fill="#150000"/>
<rect x="370" y="460" width="1" height="6" fill="#160000"/>
<rect x="370" y="477" width="1" height="8" fill="#170000"/>
<rect x="370" y="488" width="1" height="3" fill="#170000"/>
<rect x="370" y="493" width="1" height="4" fill="#1c0000"/>
<rect x="370" y="507" width="1" height="8" fill="#180000"/>
<rect x="370" y="517" width="1" height="3" fill="#1f0000"/>
<rect x="370" y="539" width="1" height="6" fill="#1a0000"/>
<rect x="370" y="548" width="1" height="5" fill="#190000"/>
<rect x="370" y="554" width="1" height="5" fill="#210000"/>
<rect x="382" y="81" width="2" height="3" fill="#300000"/>
<rect x="382" y="94" width="2" height="4" fill="#370000"/>
<rect x="382" y="109" width="2" height="5" fill="#220000"/>
<rect x="382" y="114" width="2" height="2" fill="#2f0000"/>
<rect x="382" y="118" width="2" height="2" fill="#2a0000"/>
<rect x="382" y="122" width="2" height="2" fill="#320000"/>
<rect x="382" y="126" width="2" height="5" fill="#2e0000"/>
<rect x="382" y="158" width="2" height="5" fill="#2c0000"/>
<rect x="382" y="163" width="2" height="4" fill="#280000"/>
<rect x="382" y="169" width="2" height="6" fill="#190000"/>
<rect x="382" y="177" width="2" height="8" fill="#150000"/>
<rect x="382" y="196" width="2" height="7" fill="#300000"/>
<rect x="382" y="204" width="2" height="2" fill="#2b0000"/>
<rect x="382" y="209" width="2" height="7" fill="#170000"/>
<rect x="382" y="219" width="2" height="5" fill="#270000"/>
<rect x="382" y="231" width="2" height="7" fill="#310000"/>
<rect x="382" y="243" width="2" height="9" fill="#270000"/>
<rect x="382" y="253" width="2" height="9" fill="#210000"/>
<rect x="382" y="264" width="2" height="9" fill="#350000"/>
<rect x="382" y="286" width="2" height="6" fill="#270000"/>
<rect x="382" y="294" width="2" height="3" fill="#1e0000"/>
<rect x="382" y="297" width="2" height="9" fill="#150000"/>
<rect x="382" y="313" width="2" height="7" fill="#340000"/>
<rect x="382" y="320" width="2" height="2" fill="#160000"/>
<rect x="382" y="325" width="2" height="2" fill="#260000"/>
<rect x="382" y="350" width="2" height="4" fill="#110000"/>
<rect x="382" y="364" width="2" height="7" fill="#190000"/>
<rect x="382" y="372" width="2" height="9" fill="#1b0000"/>
<rect x="382" y="381" width="2" height="4" fill="#1f0000"/>
<rect x="382" y="399" width="2" height="5" fill="#190000"/>
<rect x="382" y="405" width="2" height="9" fill="#340000"/>
<rect x="382" y="422" width="2" height="2" fill="#140000"/>
<rect x="382" y="442" width="2" height="7" fill="#320000"/>
<rect x="382" y="450" width="2" height="5" fill="#1b0000"/>
<rect x="382" y="461" width="2" height="5" fill="#370000"/>
<rect x="382" y="466" width="2" height="9" fill="#260000"/>
<rect x="382" y="476" width="2" height="6" fill="#2e0000"/>
<rect x="382" y="485" width="2" height="2" fill="#180000"/>
<rect x="382" y="487" width="2" height="9" fill="#300000"/>
<rect x="382" y="507" width="2" height="4" fill="#210000"/>
<rect x="382" y="513" width="2" height="8" fill="#290000"/>
<rect x="382" y="530" width="2" height="7" fill="#200000"/>
<rect x="384" y="81" width="1" height="4" fill="#110000"/>
<rect x="384" y="88" width="1" height="9" fill="#140000"/>
<rect x="384" y="99" width="1" height="9" fill="#170000"/>
<rect x="384" y="111" width="1" height="4" fill="#160000"/>
<rect x="384" y="138" width="1" height="4" fill="#140000"/>
<rect x="384" y="142" width="1" height="2" fill="#290000"/>
<rect x="384" y="147" width="1" height="7" fill="#160000"/>
<rect x="384" y="157" width="1" height="8" fill="#1c0000"/>
<rect x="384" y="166" width="1" height="2" fill="#2f0000"/>
<rect x="384" y="169" width="1" height="7" fill="#1f0000"/>
<rect x="384" y="179" width="1" height="7" fill="#1b0000"/>
<rect x="384" y="187" width="1" height="7" fill="#270000"/>
<rect x="384" y="195" width="1" height="8" fill="#1e0000"/>
<rect x="384" y="208" width="1" height="7" fill="#270000"/>
<rect x="384" y="227" width="1" height="7" fill="#180000"/>
<rect x="384" y="247" width="1" height="8" fill="#1c0000"/>
<rect x="384" y="265" width="1" height="6" fill="#2c0000"/>
<rect x="384" y="288" width="1" height="2" fill="#230000"/>
<rect x="384" y="296" width="1" height="2" fill="#120000"/>
<rect x="384" y="298" width="1" height="3" fill="#2f0000"/>
<rect x="384" y="301" width="1" height="4" fill="#120000"/>
<rect x="384" y="306" width="1" height="2" fill="#230000"/>
<rect x="384" y="320" width="1" height="4" fill="#310000"/>
<rect x="384" y="330" width="1" height="3" fill="#140000"/>
<rect x="384" y="370" width="1" height="7" fill="#1d0000"/>
<rect x="384" y="377" width="1" height="9" fill="#170000"/>
<rect x="384" y="386" width="1" height="9" fill="#180000"/>
<rect x="384" y="395" width="1" height="9" fill="#120000"/>
<rect x="384" y="404" width="1" height="7" fill="#1e0000"/>
<rect x="384" y="412" width="1" height="2" fill="#2d0000"/>
<rect x="384" y="427" width="1" height="4" fill="#200000"/>
<rect x="384" y="431" width="1" height="2" fill="#290000"/>
<rect x="384" y="435" width="1" height="8" fill="#210000"/>
<rect x="384" y="444" width="1" height="8" fill="#220000"/>
<rect x="384" y="455" width="1" height="7" fill="#300000"/>
<rect x="384" y="463" width="1" height="7" fill="#2c0000"/>
<rect x="384" y="471" width="1" height="6" fill="#320000"/>
<rect x="384" y="478" width="1" height="2" fill="#320000"/>
<rect x="384" y="482" width="1" height="7" fill="#1d0000"/>
<rect x="384" y="501" width="1" height="6" fill="#2a0000"/>
<rect x="384" y="507" width="1" height="9" fill="#2e0000"/>
<rect x="384" y="516" width="1" height="4" fill="#120000"/>
<rect x="384" y="520" width="1" height="8" fill="#2d0000"/>
<rect x="384" y="537" width="1" height="8" fill="#130000"/>
<rect x="384" y="547" width="1" height="3" fill="#220000"/>
<rect x="399" y="88" width="2" height="6" fill="#300000"/>
<rect x="399" y="95" width="2" height="8" fill="#2f0000"/>
<rect x="399" y="105" width="2" height="9" fill="#260000"/>
<rect x="399" y="116" width="2" height="8" fill="#290000"/>
<rect x="399" y="138" width="2" height="7" fill="#250000"/>
<rect x="399" y="153" width="2" height="9" fill="#1a0000"/>
<rect x="399" y="162" width="2" height="3" fill="#350000"/>
<rect x="399" y="165" width="2" height="5" fill="#1a0000"/>
<rect x="399" y="173" width="2" height="3" fill="#2c0000"/>
<rect x="399" y="178" width="2" height="4" fill="#3d0000"/>
<rect x="399" y="182" width="2" height="4" fill="#340000"/>
<rect x="399" y="196" width="2" height="9" fill="#360000"/>
<rect x="399" y="219" width="2" height="3" fill="#250000"/>
<rect x="399" y="233" width="2" height="7" fill="#290000"/>
<rect x="399" y="243" width="2" height="5" fill="#270000"/>
<rect x="399" y="251" width="2" height="5" fill="#3b0000"/>
<rect x="399" y="257" width="2" height="3" fill="#200000"/>
<rect x="399" y="263" width="2" height="4" fill="#3a0000"/>
<rect x="399" y="270" width="2" height="9" fill="#1b0000"/>
<rect x="399" y="298" width="2" height="7" fill="#140000"/>
<rect x="399" y="305" width="2" height="4" fill="#1c0000"/>
<rect x="399" y="311" width="2" height="7" fill="#140000"/>
<rect x="399" y="319" width="2" height="7" fill="#2f0000"/>
<rect x="399" y="328" width="2" height="5" fill="#190000"/>
<rect x="399" y="335" width="2" height="9" fill="#250000"/>
<rect x="399" y="346" width="2" height="9" fill="#3d0000"/>
<rect x="399" y="356" width="2" height="4" fill="#130000"/>
<rect x="399" y="368" width="2" height="3" fill="#170000"/>
<rect x="399" y="375" width="2" height="5" fill="#280000"/>
<rect x="399" y="382" width="2" height="3" fill="#400000"/>
<rect x="399" y="394" width="2" height="3" fill="#3e0000"/>
<rect x="399" y="399" width="2" height="2" fill="#1d0000"/>
<rect x="399" y="408" width="2" height="4" fill="#390000"/>
<rect x="399" y="416" width="2" height="6" fill="#220000"/>
<rect x="399" y="424" width="2" height="8" fill="#160000"/>
<rect x="399" y="432" width="2" height="3" fill="#230000"/>
<rect x="399" y="438" width="2" height="3" fill="#340000"/>
<rect x="399" y="443" width="2" height="4" fill="#170000"/>
<rect x="399" y="447" width="2" height="2" fill="#400000"/>
<rect x="399" y="462" width="2" height="4" fill="#130000"/>
<rect x="399" y="468" width="2" height="6" fill="#1f0000"/>
<rect x="399" y="482" width="2" height="9" fill="#160000"/>
<rect x="399" y="494" width="2" height="5" fill="#3b0000"/>
<rect x="399" y="499" width="2" height="5" fill="#390000"/>
<rect x="399" y="506" width="2" height="5" fill="#2f0000"/>
<rect x="399" y="514" width="2" height="8" fill="#170000"/>
<rect x="399" y="527" width="2" height="9" fill="#400000"/>
<rect x="399" y="537" width="2" height="2" fill="#230000"/>
<rect x="399" y="545" width="2" height="7" fill="#2e0000"/>
<rect x="399" y="554" width="2" height="3" fill="#170000"/>
<rect x="405" y="87" width="1" height="5" fill="#170000"/>
<rect x="405" y="99" width="1" height="8" fill="#210000"/>
<rect x="405" y="153" width="1" height="2" fill="#180000"/>
<rect x="405" y="161" width="1" height="6" fill="#240000"/>
<rect x="405" y="196" width="1" height="6" fill="#210000"/>
<rect x="405" y="249" width="1" height="4" fill="#130000"/>
<rect x="405" y="274" width="1" height="8" fill="#180000"/>
<rect x="405" y="284" width="1" height="4" fill="#230000"/>
<rect x="405" y="295" width="1" height="8" fill="#1e0000"/>
<rect x="405" y="304" width="1" height="6" fill="#180000"/>
<rect x="405" y="323" width="1" height="3" fill="#1f0000"/>
<rect x="405" y="328" width="1" height="9" fill="#230000"/>
<rect x="405" y="356" width="1" height="5" fill="#140000"/>
<rect x="405" y="369" width="1" height="3" fill="#1a0000"/>
<rect x="405" y="393" width="1" height="8" fill="#1d0000"/>
<rect x="405" y="408" width="1" height="9" fill="#1e0000"/>
<rect x="405" y="430" width="1" height="5" fill="#1d0000"/>
<rect x="405" y="438" width="1" height="6" fill="#150000"/>
<rect x="405" y="444" width="1" height="6" fill="#110000"/>
<rect x="405" y="462" width="1" height="6" fill="#1c0000"/>
<rect x="405" y="490" width="1" height="2" fill="#180000"/>
<rect x="405" y="494" width="1" height="8" fill="#1e0000"/>
<rect x="405" y="513" width="1" height="4" fill="#230000"/>
<rect x="405" y="531" width="1" height="4" fill="#1a0000"/>
<rect x="405" y="556" width="1" height="8" fill="#1b0000"/>
<rect x="413" y="81" width="2" height="3" fill="#001100"/>
<rect x="413" y="86" width="2" height="4" fill="#000f00"/>
<rect x="413" y="126" width="2" height="8" fill="#001600"/>
<rect x="413" y="142" width="2" height="5" fill="#000e00"/>
<rect x="413" y="175" width="2" height="9" fill="#001800"/>
<rect x="413" y="205" width="2" height="4" fill="#001200"/>
<rect x="413" y="209" width="2" height="6" fill="#001100"/>
<rect x="413" y="259" width="2" height="5" fill="#001400"/>
<rect x="413" y="275" width="2" height="6" fill="#001100"/>
<rect x="413" y="306" width="2" height="4" fill="#001800"/>
<rect x="413" y="330" width="2" height="4" fill="#001300"/>
<rect x="413" y="339" width="2" height="7" fill="#000f00"/>
<rect x="413" y="366" width="2" height="4" fill="#000e00"/>
<rect x="413" y="379" width="2" height="9" fill="#001000"/>
<rect x="413" y="400" width="2" height="9" fill="#001100"/>
<rect x="413" y="411" width="2" height="4" fill="#001100"/>
<rect x="413" y="427" width="2" height="2" fill="#000e00"/>
<rect x="413" y="436" width="2" height="4" fill="#001500"/>
<rect x="413" y="455" width="2" height="5" fill="#001400"/>
<rect x="413" y="461" width="2" height="7" fill="#001500"/>
<rect x="413" y="474" width="2" height="3" fill="#001500"/>
<rect x="413" y="488" width="2" height="5" fill="#001800"/>
<rect x="413" y="502" width="2" height="2" fill="#001000"/>
<rect x="413" y="521" width="2" height="8" fill="#001200"/>
<rect x="413" y="532" width="2" height="5" fill="#001600"/>
<rect x="413" y="545" width="2" height="4" fill="#000f00"/>
<rect x="413" y="555" width="2" height="9" fill="#001700"/>
<rect x="430" y="107" width="1" height="9" fill="#150000"/>
<rect x="430" y="124" width="1" height="8" fill="#1b0000"/>
<rect x="430" y="135" width="1" height="5" fill="#160000"/>
<rect x="430" y="176" width="1" height="4" fill="#130000"/>
<rect x="430" y="181" width="1" height="6" fill="#120000"/>
<rect x="430" y="187" width="1" height="8" fill="#170000"/>
<rect x="430" y="229" width="1" height="4" fill="#140000"/>
<rect x="430" y="239" width="1" height="9" fill="#120000"/>
<rect x="430" y="274" width="1" height="5" fill="#1c0000"/>
<rect x="430" y="290" width="1" height="3" fill="#1d0000"/>
<rect x="430" y="300" width="1" height="2" fill="#180000"/>
<rect x="430" y="334" width="1" height="3" fill="#150000"/>
<rect x="430" y="340" width="1" height="9" fill="#130000"/>
<rect x="430" y="354" width="1" height="7" fill="#150000"/>
<rect x="430" y="420" width="1" height="8" fill="#1d0000"/>
<rect x="430" y="448" width="1" height="4" fill="#110000"/>
<rect x="430" y="481" width="1" height="6" fill="#170000"/>
<rect x="430" y="530" width="1" height="8" fill="#1d0000"/>
<rect x="430" y="540" width="1" height="9" fill="#120000"/>
<rect x="455" y="87" width="1" height="6" fill="#1a0000"/>
<rect x="455" y="134" width="1" height="6" fill="#1b0000"/>
<rect x="455" y="169" width="1" height="5" fill="#110000"/>
<rect x="455" y="196" width="1" height="7" fill="#180000"/>
<rect x="455" y="219" width="1" height="6" fill="#130000"/>
<rect x="455" y="245" width="1" height="3" fill="#170000"/>
<rect x="455" y="283" width="1" height="8" fill="#1c0000"/>
<rect x="455" y="318" width="1" height="6" fill="#120000"/>
<rect x="455" y="331" width="1" height="2" fill="#1a0000"/>
<rect x="455" y="336" width="1" height="8" fill="#130000"/>
<rect x="455" y="345" width="1" height="7" fill="#120000"/>
<rect x="455" y="354" width="1" height="8" fill="#120000"/>
<rect x="455" y="374" width="1" height="7" fill="#1e0000"/>
<rect x="455" y="384" width="1" height="2" fill="#180000"/>
<rect x="455" y="387" width="1" height="3" fill="#140000"/>
<rect x="455" y="391" width="1" height="7" fill="#1a0000"/>
<rect x="455" y="411" width="1" height="7" fill="#1e0000"/>
<rect x="455" y="434" width="1" height="7" fill="#1d0000"/>
<rect x="455" y="450" width="1" height="8" fill="#1b0000"/>
<rect x="455" y="466" width="1" height="9" fill="#190000"/>
<rect x="455" y="500" width="1" height="5" fill="#1d0000"/>
<rect x="455" y="507" width="1" height="2" fill="#1a0000"/>
<rect x="455" y="514" width="1" height="4" fill="#170000"/>
<rect x="455" y="537" width="1" height="8" fill="#1b0000"/>
<rect x="470" y="81" width="2" height="6" fill="#180000"/>
<rect x="470" y="102" width="2" height="7" fill="#240000"/>
<rect x="470" y="140" width="2" height="4" fill="#1f0000"/>
<rect x="470" y="160" width="2" height="8" fill="#110000"/>
<rect x="470" y="177" width="2" height="2" fill="#150000"/>
<rect x="470" y="215" width="2" height="8" fill="#210000"/>
<rect x="470" y="226" width="2" height="9" fill="#270000"/>
<rect x="470" y="235" width="2" height="8" fill="#150000"/>
<rect x="470" y="243" width="2" height="8" fill="#170000"/>
<rect x="470" y="286" width="2" height="6" fill="#190000"/>
<rect x="470" y="292" width="2" height="9" fill="#230000"/>
<rect x="470" y="302" width="2" height="7" fill="#150000"/>
<rect x="470" y="323" width="2" height="8" fill="#240000"/>
<rect x="470" y="349" width="2" height="6" fill="#260000"/>
<rect x="470" y="374" width="2" height="5" fill="#1c0000"/>
<rect x="470" y="381" width="2" height="4" fill="#260000"/>
<rect x="470" y="403" width="2" height="4" fill="#210000"/>
<rect x="470" y="427" width="2" height="4" fill="#210000"/>
<rect x="470" y="431" width="2" height="8" fill="#200000"/>
<rect x="470" y="457" width="2" height="2" fill="#150000"/>
<rect x="470" y="459" width="2" height="9" fill="#120000"/>
<rect x="470" y="469" width="2" height="9" fill="#200000"/>
<rect x="470" y="478" width="2" height="5" fill="#230000"/>
<rect x="470" y="490" width="2" height="2" fill="#220000"/>
<rect x="470" y="494" width="2" height="3" fill="#230000"/>
<rect x="470" y="498" width="2" height="9" fill="#170000"/>
<rect x="470" y="509" width="2" height="4" fill="#240000"/>
<rect x="470" y="515" width="2" height="8" fill="#190000"/>
<rect x="470" y="526" width="2" height="6" fill="#1f0000"/>
<rect x="470" y="533" width="2" height="4" fill="#160000"/>
<rect x="470" y="550" width="2" height="6" fill="#240000"/>
<rect x="479" y="81" width="2" height="4" fill="#2a0000"/>
<rect x="479" y="85" width="2" height="7" fill="#250000"/>
<rect x="479" y="97" width="2" height="3" fill="#640000"/>
<rect x="479" y="109" width="2" height="2" fill="#5f0000"/>
<rect x="479" y="136" width="2" height="7" fill="#530000"/>
<rect x="479" y="145" width="2" height="4" fill="#5f0000"/>
<rect x="479" y="149" width="2" height="6" fill="#270000"/>
<rect x="479" y="162" width="2" height="9" fill="#180000"/>
<rect x="479" y="174" width="2" height="6" fill="#230000"/>
<rect x="479" y="180" width="2" height="3" fill="#2a0000"/>
<rect x="479" y="186" width="2" height="8" fill="#150000"/>
<rect x="479" y="213" width="2" height="9" fill="#600000"/>
<rect x="479" y="224" width="2" height="8" fill="#410000"/>
<rect x="479" y="232" width="2" height="8" fill="#440000"/>
<rect x="479" y="242" width="2" height="8" fill="#320000"/>
<rect x="479" y="252" width="2" height="7" fill="#2a0000"/>
<rect x="479" y="262" width="2" height="6" fill="#640000"/>
<rect x="479" y="277" width="2" height="2" fill="#260000"/>
<rect x="479" y="279" width="2" height="6" fill="#5c0000"/>
<rect x="479" y="288" width="2" height="7" fill="#5f0000"/>
<rect x="479" y="296" width="2" height="8" fill="#4f0000"/>
<rect x="479" y="307" width="2" height="8" fill="#4c0000"/>
<rect x="479" y="315" width="2" height="3" fill="#410000"/>
<rect x="479" y="319" width="2" height="6" fill="#220000"/>
<rect x="479" y="328" width="2" height="7" fill="#390000"/>
<rect x="479" y="338" width="2" height="8" fill="#210000"/>
<rect x="479" y="351" width="2" height="9" fill="#500000"/>
<rect x="479" y="363" width="2" height="7" fill="#390000"/>
<rect x="479" y="371" width="2" height="5" fill="#680000"/>
<rect x="479" y="379" width="2" height="7" fill="#150000"/>
<rect x="479" y="388" width="2" height="9" fill="#4d0000"/>
<rect x="479" y="397" width="2" height="9" fill="#380000"/>
<rect x="479" y="407" width="2" height="2" fill="#570000"/>
<rect x="479" y="409" width="2" height="7" fill="#1a0000"/>
<rect x="479" y="416" width="2" height="5" fill="#130000"/>
<rect x="479" y="423" width="2" height="9" fill="#620000"/>
<rect x="479" y="438" width="2" height="4" fill="#450000"/>
<rect x="479" y="461" width="2" height="8" fill="#120000"/>
<rect x="479" y="469" width="2" height="3" fill="#2f0000"/>
<rect x="479" y="472" width="2" height="8" fill="#3f0000"/>
<rect x="479" y="482" width="2" height="7" fill="#2a0000"/>
<rect x="479" y="497" width="2" height="4" fill="#570000"/>
<rect x="479" y="504" width="2" height="7" fill="#500000"/>
<rect x="479" y="512" width="2" height="8" fill="#510000"/>
<rect x="479" y="520" width="2" height="5" fill="#1a0000"/>
<rect x="479" y="527" width="2" height="6" fill="#340000"/>
<rect x="479" y="533" width="2" height="7" fill="#230000"/>
<rect x="479" y="547" width="2" height="7" fill="#1a0000"/>
<rect x="479" y="555" width="2" height="5" fill="#1a0000"/>
<rect x="483" y="81" width="2" height="9" fill="#1f0000"/>
<rect x="483" y="93" width="2" height="3" fill="#3c0000"/>
<rect x="483" y="96" width="2" height="2" fill="#200000"/>
<rect x="483" y="101" width="2" height="7" fill="#1a0000"/>
<rect x="483" y="111" width="2" height="5" fill="#190000"/>
<rect x="483" y="116" width="2" height="9" fill="#2c0000"/>
<rect x="483" y="126" width="2" height="7" fill="#180000"/>
<rect x="483" y="140" width="2" height="9" fill="#2e0000"/>
<rect x="483" y="150" width="2" height="6" fill="#1c0000"/>
<rect x="483" y="157" width="2" height="5" fill="#3c0000"/>
<rect x="483" y="174" width="2" height="7" fill="#370000"/>
<rect x="483" y="188" width="2" height="3" fill="#120000"/>
<rect x="483" y="198" width="2" height="6" fill="#230000"/>
<rect x="483" y="207" width="2" height="6" fill="#2c0000"/>
<rect x="483" y="215" width="2" height="6" fill="#250000"/>
<rect x="483" y="228" width="2" height="5" fill="#2e0000"/>
<rect x="483" y="284" width="2" height="7" fill="#150000"/>
<rect x="483" y="293" width="2" height="4" fill="#190000"/>
<rect x="483" y="315" width="2" height="4" fill="#1c0000"/>
<rect x="483" y="322" width="2" height="7" fill="#330000"/>
<rect x="483" y="334" width="2" height="8" fill="#1b0000"/>
<rect x="483" y="356" width="2" height="3" fill="#190000"/>
<rect x="483" y="360" width="2" height="3" fill="#1b0000"/>
<rect x="483" y="373" width="2" height="7" fill="#180000"/>
<rect x="483" y="383" width="2" height="7" fill="#2d0000"/>
<rect x="483" y="410" width="2" height="9" fill="#2d0000"/>
<rect x="483" y="429" width="2" height="7" fill="#260000"/>
<rect x="483" y="439" width="2" height="3" fill="#2b0000"/>
<rect x="483" y="442" width="2" height="6" fill="#380000"/>
<rect x="483" y="451" width="2" height="9" fill="#180000"/>
<rect x="483" y="462" width="2" height="6" fill="#2f0000"/>
<rect x="483" y="468" width="2" height="5" fill="#190000"/>
<rect x="483" y="473" width="2" height="5" fill="#330000"/>
<rect x="483" y="481" width="2" height="5" fill="#3b0000"/>
<rect x="483" y="486" width="2" height="3" fill="#1c0000"/>
<rect x="483" y="496" width="2" height="9" fill="#380000"/>
<rect x="483" y="507" width="2" height="6" fill="#370000"/>
<rect x="483" y="516" width="2" height="6" fill="#1c0000"/>
<rect x="483" y="524" width="2" height="4" fill="#180000"/>
<rect x="483" y="543" width="2" height="7" fill="#390000"/>
<rect x="483" y="550" width="2" height="8" fill="#150000"/>
<rect x="500" y="84" width="1" height="8" fill="#150000"/>
<rect x="500" y="126" width="1" height="3" fill="#1c0000"/>
<rect x="500" y="152" width="1" height="9" fill="#1b0000"/>
<rect x="500" y="189" width="1" height="5" fill="#190000"/>
<rect x="500" y="199" width="1" height="7" fill="#130000"/>
<rect x="500" y="207" width="1" height="2" fill="#130000"/>
<rect x="500" y="272" width="1" height="4" fill="#1b0000"/>
<rect x="500" y="278" width="1" height="9" fill="#140000"/>
<rect x="500" y="287" width="1" height="5" fill="#1a0000"/>
<rect x="500" y="315" width="1" height="4" fill="#180000"/>
<rect x="500" y="327" width="1" height="4" fill="#1f0000"/>
<rect x="500" y="342" width="1" height="9" fill="#180000"/>
<rect x="500" y="352" width="1" height="3" fill="#150000"/>
<rect x="500" y="377" width="1" height="7" fill="#1f0000"/>
<rect x="500" y="384" width="1" height="7" fill="#1b0000"/>
<rect x="500" y="395" width="1" height="7" fill="#1a0000"/>
<rect x="500" y="409" width="1" height="4" fill="#1b0000"/>
<rect x="500" y="422" width="1" height="9" fill="#180000"/>
<rect x="500" y="441" width="1" height="5" fill="#1d0000"/>
<rect x="500" y="462" width="1" height="8" fill="#1a0000"/>
<rect x="500" y="473" width="1" height="4" fill="#180000"/>
<rect x="500" y="477" width="1" height="8" fill="#190000"/>
<rect x="500" y="487" width="1" height="4" fill="#1f0000"/>
<rect x="500" y="552" width="1" height="6" fill="#190000"/>
<rect x="525" y="81" width="2" height="2" fill="#1d0000"/>
<rect x="525" y="87" width="2" height="3" fill="#230000"/>
<rect x="525" y="111" width="2" height="6" fill="#2c0000"/>
<rect x="525" y="117" width="2" height="8" fill="#1a0000"/>
<rect x="525" y="127" width="2" height="6" fill="#1d0000"/>
<rect x="525" y="146" width="2" height="3" fill="#180000"/>
<rect x="525" y="151" width="2" height="4" fill="#1a0000"/>
<rect x="525" y="214" width="2" height="3" fill="#130000"/>
<rect x="525" y="218" width="2" height="8" fill="#1a0000"/>
<rect x="525" y="248" width="2" height="7" fill="#160000"/>
<rect x="525" y="258" width="2" height="7" fill="#220000"/>
<rect x="525" y="265" width="2" height="7" fill="#180000"/>
<rect x="525" y="275" width="2" height="3" fill="#200000"/>
<rect x="525" y="278" width="2" height="6" fill="#180000"/>
<rect x="525" y="295" width="2" height="2" fill="#150000"/>
<rect x="525" y="297" width="2" height="4" fill="#1d0000"/>
<rect x="525" y="311" width="2" height="6" fill="#1c0000"/>
<rect x="525" y="343" width="2" height="7" fill="#260000"/>
<rect x="525" y="352" width="2" height="8" fill="#1c0000"/>
<rect x="525" y="370" width="2" height="3" fill="#220000"/>
<rect x="525" y="375" width="2" height="3" fill="#1c0000"/>
<rect x="525" y="389" width="2" height="4" fill="#280000"/>
<rect x="525" y="393" width="2" height="4" fill="#2a0000"/>
<rect x="525" y="400" width="2" height="2" fill="#290000"/>
<rect x="525" y="413" width="2" height="4" fill="#250000"/>
<rect x="525" y="420" width="2" height="9" fill="#220000"/>
<rect x="525" y="429" width="2" height="5" fill="#1c0000"/>
<rect x="525" y="436" width="2" height="9" fill="#280000"/>
<rect x="525" y="464" width="2" height="2" fill="#1d0000"/>
<rect x="525" y="521" width="2" height="6" fill="#140000"/>
<rect x="525" y="529" width="2" height="9" fill="#2b0000"/>
<rect x="525" y="547" width="2" height="7" fill="#1d0000"/>
<rect x="540" y="81" width="2" height="5" fill="#360000"/>
<rect x="540" y="100" width="2" height="2" fill="#1a0000"/>
<rect x="540" y="104" width="2" height="8" fill="#1e0000"/>
<rect x="540" y="114" width="2" height="4" fill="#170000"/>
<rect x="540" y="121" width="2" height="6" fill="#130000"/>
<rect x="540" y="127" width="2" height="9" fill="#350000"/>
<rect x="540" y="138" width="2" height="4" fill="#210000"/>
<rect x="540" y="142" width="2" height="9" fill="#300000"/>
<rect x="540" y="167" width="2" height="7" fill="#120000"/>
<rect x="540" y="189" width="2" height="3" fill="#160000"/>
<rect x="540" y="194" width="2" height="5" fill="#340000"/>
<rect x="540" y="204" width="2" height="6" fill="#360000"/>
<rect x="540" y="226" width="2" height="6" fill="#330000"/>
<rect x="540" y="232" width="2" height="7" fill="#130000"/>
<rect x="540" y="252" width="2" height="3" fill="#1e0000"/>
<rect x="540" y="257" width="2" height="3" fill="#1a0000"/>
<rect x="540" y="269" width="2" height="9" fill="#150000"/>
<rect x="540" y="279" width="2" height="4" fill="#340000"/>
<rect x="540" y="285" width="2" height="7" fill="#370000"/>
<rect x="540" y="295" width="2" height="6" fill="#130000"/>
<rect x="540" y="302" width="2" height="3" fill="#2f0000"/>
<rect x="540" y="320" width="2" height="6" fill="#140000"/>
<rect x="540" y="326" width="2" height="3" fill="#2d0000"/>
<rect x="540" y="335" width="2" height="2" fill="#380000"/>
<rect x="540" y="353" width="2" height="3" fill="#370000"/>
<rect x="540" y="357" width="2" height="3" fill="#210000"/>
<rect x="540" y="364" width="2" height="9" fill="#1d0000"/>
<rect x="540" y="373" width="2" height="7" fill="#150000"/>
<rect x="540" y="383" width="2" height="4" fill="#2b0000"/>
<rect x="540" y="397" width="2" height="4" fill="#1a0000"/>
<rect x="540" y="401" width="2" height="9" fill="#1c0000"/>
<rect x="540" y="417" width="2" height="7" fill="#2f0000"/>
<rect x="540" y="424" width="2" height="8" fill="#170000"/>
<rect x="540" y="435" width="2" height="8" fill="#240000"/>
<rect x="540" y="458" width="2" height="6" fill="#1b0000"/>
<rect x="540" y="473" width="2" height="5" fill="#150000"/>
<rect x="540" y="481" width="2" height="9" fill="#150000"/>
<rect x="540" y="522" width="2" height="2" fill="#1a0000"/>
<rect x="540" y="525" width="2" height="2" fill="#380000"/>
<rect x="540" y="528" width="2" height="5" fill="#280000"/>
<rect x="540" y="544" width="2" height="7" fill="#220000"/>
<rect x="565" y="81" width="2" height="5" fill="#360000"/>
<rect x="565" y="86" width="2" height="2" fill="#230000"/>
<rect x="565" y="94" width="2" height="8" fill="#280000"/>
<rect x="565" y="104" width="2" height="2" fill="#330000"/>
<rect x="565" y="109" width="2" height="4" fill="#1e0000"/>
<rect x="565" y="143" width="2" height="9" fill="#2c0000"/>
<rect x="565" y="152" width="2" height="8" fill="#2f0000"/>
<rect x="565" y="163" width="2" height="3" fill="#2b0000"/>
<rect x="565" y="172" width="2" height="5" fill="#120000"/>
<rect x="565" y="178" width="2" height="3" fill="#240000"/>
<rect x="565" y="181" width="2" height="8" fill="#240000"/>
<rect x="565" y="200" width="2" height="8" fill="#380000"/>
<rect x="565" y="208" width="2" height="7" fill="#150000"/>
<rect x="565" y="227" width="2" height="2" fill="#290000"/>
<rect x="565" y="249" width="2" height="8" fill="#1d0000"/>
<rect x="565" y="283" width="2" height="5" fill="#200000"/>
<rect x="565" y="301" width="2" height="4" fill="#210000"/>
<rect x="565" y="307" width="2" height="9" fill="#340000"/>
<rect x="565" y="329" width="2" height="2" fill="#2f0000"/>
<rect x="565" y="332" width="2" height="5" fill="#170000"/>
<rect x="565" y="339" width="2" height="2" fill="#270000"/>
<rect x="565" y="346" width="2" height="4" fill="#2e0000"/>
<rect x="565" y="362" width="2" height="7" fill="#120000"/>
<rect x="565" y="381" width="2" height="5" fill="#2f0000"/>
<rect x="565" y="406" width="2" height="9" fill="#220000"/>
<rect x="565" y="416" width="2" height="3" fill="#320000"/>
<rect x="565" y="422" width="2" height="5" fill="#2d0000"/>
<rect x="565" y="441" width="2" height="5" fill="#200000"/>
<rect x="565" y="449" width="2" height="3" fill="#220000"/>
<rect x="565" y="459" width="2" height="4" fill="#150000"/>
<rect x="565" y="463" width="2" height="5" fill="#1c0000"/>
<rect x="565" y="471" width="2" height="6" fill="#340000"/>
<rect x="565" y="479" width="2" height="8" fill="#1d0000"/>
<rect x="565" y="498" width="2" height="3" fill="#140000"/>
<rect x="565" y="508" width="2" height="4" fill="#210000"/>
<rect x="565" y="513" width="2" height="5" fill="#180000"/>
<rect x="565" y="535" width="2" height="7" fill="#220000"/>
<rect x="565" y="547" width="2" height="2" fill="#230000"/>
<rect x="565" y="549" width="2" height="3" fill="#290000"/>
<rect x="565" y="553" width="2" height="8" fill="#1a0000"/>
<rect x="578" y="81" width="2" height="7" fill="#3d0000"/>
<rect x="578" y="91" width="2" height="8" fill="#200000"/>
<rect x="578" y="100" width="2" height="2" fill="#3e0000"/>
<rect x="578" y="111" width="2" height="9" fill="#3a0000"/>
<rect x="578" y="132" width="2" height="9" fill="#300000"/>
<rect x="578" y="144" width="2" height="6" fill="#2c0000"/>
<rect x="578" y="153" width="2" height="6" fill="#2b0000"/>
<rect x="578" y="162" width="2" height="2" fill="#180000"/>
<rect x="578" y="166" width="2" height="2" fill="#270000"/>
<rect x="578" y="188" width="2" height="9" fill="#180000"/>
<rect x="578" y="199" width="2" height="9" fill="#1c0000"/>
<rect x="578" y="210" width="2" height="8" fill="#240000"/>
<rect x="578" y="221" width="2" height="2" fill="#250000"/>
<rect x="578" y="242" width="2" height="9" fill="#230000"/>
<rect x="578" y="276" width="2" height="2" fill="#260000"/>
<rect x="578" y="279" width="2" height="7" fill="#290000"/>
<rect x="578" y="287" width="2" height="3" fill="#390000"/>
<rect x="578" y="292" width="2" height="7" fill="#160000"/>
<rect x="578" y="302" width="2" height="6" fill="#140000"/>
<rect x="578" y="316" width="2" height="5" fill="#1b0000"/>
<rect x="578" y="322" width="2" height="9" fill="#2d0000"/>
<rect x="578" y="331" width="2" height="5" fill="#1a0000"/>
<rect x="578" y="336" width="2" height="8" fill="#1c0000"/>
<rect x="578" y="349" width="2" height="7" fill="#1b0000"/>
<rect x="578" y="387" width="2" height="5" fill="#210000"/>
<rect x="578" y="393" width="2" height="5" fill="#1b0000"/>
<rect x="578" y="405" width="2" height="5" fill="#1d0000"/>
<rect x="578" y="412" width="2" height="3" fill="#3d0000"/>
<rect x="578" y="415" width="2" height="6" fill="#370000"/>
<rect x="578" y="422" width="2" height="5" fill="#260000"/>
<rect x="578" y="430" width="2" height="4" fill="#1a0000"/>
<rect x="578" y="435" width="2" height="5" fill="#2b0000"/>
<rect x="578" y="448" width="2" height="7" fill="#400000"/>
<rect x="578" y="455" width="2" height="5" fill="#140000"/>
<rect x="578" y="515" width="2" height="8" fill="#400000"/>
<rect x="578" y="524" width="2" height="5" fill="#2d0000"/>
<rect x="578" y="536" width="2" height="3" fill="#270000"/>
<rect x="578" y="549" width="2" height="4" fill="#1f0000"/>
<rect x="578" y="553" width="2" height="9" fill="#210000"/>
<rect x="592" y="102" width="2" height="2" fill="#2b0000"/>
<rect x="592" y="106" width="2" height="3" fill="#190000"/>
<rect x="592" y="112" width="2" height="5" fill="#180000"/>
<rect x="592" y="123" width="2" height="2" fill="#180000"/>
<rect x="592" y="128" width="2" height="6" fill="#170000"/>
<rect x="592" y="140" width="2" height="5" fill="#160000"/>
<rect x="592" y="145" width="2" height="4" fill="#180000"/>
<rect x="592" y="155" width="2" height="4" fill="#1a0000"/>
<rect x="592" y="186" width="2" height="9" fill="#170000"/>
<rect x="592" y="214" width="2" height="2" fill="#250000"/>
<rect x="592" y="218" width="2" height="7" fill="#150000"/>
<rect x="592" y="228" width="2" height="9" fill="#280000"/>
<rect x="592" y="244" width="2" height="2" fill="#150000"/>
<rect x="592" y="247" width="2" height="8" fill="#200000"/>
<rect x="592" y="265" width="2" height="4" fill="#240000"/>
<rect x="592" y="276" width="2" height="2" fill="#250000"/>
<rect x="592" y="280" width="2" height="7" fill="#190000"/>
<rect x="592" y="297" width="2" height="5" fill="#210000"/>
<rect x="592" y="315" width="2" height="9" fill="#160000"/>
<rect x="592" y="355" width="2" height="7" fill="#2a0000"/>
<rect x="592" y="362" width="2" height="2" fill="#130000"/>
<rect x="592" y="367" width="2" height="7" fill="#280000"/>
<rect x="592" y="380" width="2" height="8" fill="#180000"/>
<rect x="592" y="394" width="2" height="3" fill="#150000"/>
<rect x="592" y="398" width="2" height="5" fill="#1d0000"/>
<rect x="592" y="412" width="2" height="7" fill="#1b0000"/>
<rect x="592" y="427" width="2" height="9" fill="#260000"/>
<rect x="592" y="445" width="2" height="4" fill="#270000"/>
<rect x="592" y="449" width="2" height="5" fill="#270000"/>
<rect x="592" y="454" width="2" height="3" fill="#210000"/>
<rect x="592" y="460" width="2" height="7" fill="#130000"/>
<rect x="592" y="467" width="2" height="7" fill="#1d0000"/>
<rect x="592" y="475" width="2" height="4" fill="#130000"/>
<rect x="592" y="481" width="2" height="6" fill="#1b0000"/>
<rect x="592" y="488" width="2" height="9" fill="#160000"/>
<rect x="592" y="500" width="2" height="6" fill="#1d0000"/>
<rect x="592" y="514" width="2" height="7" fill="#1b0000"/>
<rect x="592" y="521" width="2" height="6" fill="#120000"/>
<rect x="592" y="527" width="2" height="6" fill="#260000"/>
<rect x="592" y="541" width="2" height="4" fill="#250000"/>
<rect x="592" y="547" width="2" height="2" fill="#2c0000"/>
<rect x="592" y="552" width="2" height="9" fill="#220000"/>
<rect x="604" y="88" width="1" height="4" fill="#160000"/>
<rect x="604" y="94" width="1" height="3" fill="#120000"/>
<rect x="604" y="118" width="1" height="3" fill="#160000"/>
<rect x="604" y="122" width="1" height="9" fill="#1e0000"/>
<rect x="604" y="133" width="1" height="9" fill="#1c0000"/>
<rect x="604" y="158" width="1" height="7" fill="#120000"/>
<rect x="604" y="189" width="1" height="6" fill="#1d0000"/>
<rect x="604" y="204" width="1" height="6" fill="#140000"/>
<rect x="604" y="219" width="1" height="9" fill="#1a0000"/>
<rect x="604" y="230" width="1" height="6" fill="#1e0000"/>
<rect x="604" y="242" width="1" height="8" fill="#240000"/>
<rect x="604" y="279" width="1" height="9" fill="#240000"/>
<rect x="604" y="288" width="1" height="5" fill="#120000"/>
<rect x="604" y="297" width="1" height="4" fill="#1a0000"/>
<rect x="604" y="303" width="1" height="4" fill="#220000"/>
<rect x="604" y="308" width="1" height="9" fill="#1d0000"/>
<rect x="604" y="337" width="1" height="3" fill="#130000"/>
<rect x="604" y="341" width="1" height="7" fill="#240000"/>
<rect x="604" y="356" width="1" height="9" fill="#1c0000"/>
<rect x="604" y="367" width="1" height="9" fill="#240000"/>
<rect x="604" y="389" width="1" height="8" fill="#210000"/>
<rect x="604" y="398" width="1" height="2" fill="#230000"/>
<rect x="604" y="428" width="1" height="2" fill="#220000"/>
<rect x="604" y="431" width="1" height="4" fill="#1b0000"/>
<rect x="604" y="437" width="1" height="5" fill="#180000"/>
<rect x="604" y="442" width="1" height="7" fill="#160000"/>
<rect x="604" y="451" width="1" height="4" fill="#210000"/>
<rect x="604" y="465" width="1" height="6" fill="#200000"/>
<rect x="604" y="474" width="1" height="8" fill="#150000"/>
<rect x="604" y="507" width="1" height="4" fill="#140000"/>
<rect x="604" y="513" width="1" height="5" fill="#200000"/>
<rect x="604" y="519" width="1" height="5" fill="#1d0000"/>
<rect x="604" y="527" width="1" height="4" fill="#170000"/>
<rect x="604" y="533" width="1" height="3" fill="#1c0000"/>
<rect x="604" y="539" width="1" height="8" fill="#1e0000"/>
<rect x="604" y="550" width="1" height="3" fill="#1e0000"/>
<rect x="622" y="96" width="2" height="3" fill="#200000"/>
<rect x="622" y="100" width="2" height="7" fill="#300000"/>
<rect x="622" y="110" width="2" height="4" fill="#290000"/>
<rect x="622" y="120" width="2" height="6" fill="#1c0000"/>
<rect x="622" y="146" width="2" height="6" fill="#2b0000"/>
<rect x="622" y="160" width="2" height="5" fill="#280000"/>
<rect x="622" y="174" width="2" height="9" fill="#2e0000"/>
<rect x="622" y="194" width="2" height="5" fill="#270000"/>
<rect x="622" y="200" width="2" height="5" fill="#1d0000"/>
<rect x="622" y="205" width="2" height="3" fill="#310000"/>
<rect x="622" y="221" width="2" height="7" fill="#2f0000"/>
<rect x="622" y="231" width="2" height="2" fill="#120000"/>
<rect x="622" y="233" width="2" height="8" fill="#2b0000"/>
<rect x="622" y="246" width="2" height="8" fill="#2e0000"/>
<rect x="622" y="254" width="2" height="5" fill="#180000"/>
<rect x="622" y="260" width="2" height="4" fill="#320000"/>
<rect x="622" y="273" width="2" height="5" fill="#1e0000"/>
<rect x="622" y="278" width="2" height="8" fill="#170000"/>
<rect x="622" y="286" width="2" height="8" fill="#300000"/>
<rect x="622" y="308" width="2" height="3" fill="#1a0000"/>
<rect x="622" y="329" width="2" height="3" fill="#210000"/>
<rect x="622" y="334" width="2" height="9" fill="#200000"/>
<rect x="622" y="346" width="2" height="7" fill="#2c0000"/>
<rect x="622" y="354" width="2" height="6" fill="#150000"/>
<rect x="622" y="360" width="2" height="3" fill="#2f0000"/>
<rect x="622" y="365" width="2" height="2" fill="#200000"/>
<rect x="622" y="386" width="2" height="5" fill="#140000"/>
<rect x="622" y="402" width="2" height="2" fill="#190000"/>
<rect x="622" y="404" width="2" height="8" fill="#140000"/>
<rect x="622" y="415" width="2" height="4" fill="#200000"/>
<rect x="622" y="419" width="2" height="9" fill="#2e0000"/>
<rect x="622" y="437" width="2" height="3" fill="#170000"/>
<rect x="622" y="441" width="2" height="7" fill="#240000"/>
<rect x="622" y="489" width="2" height="5" fill="#2b0000"/>
<rect x="622" y="513" width="2" height="6" fill="#260000"/>
<rect x="622" y="529" width="2" height="3" fill="#170000"/>
<rect x="622" y="532" width="2" height="6" fill="#2e0000"/>
<rect x="622" y="540" width="2" height="4" fill="#1f0000"/>
<rect x="622" y="545" width="2" height="9" fill="#190000"/>
<rect x="622" y="554" width="2" height="3" fill="#1f0000"/>
<rect x="638" y="81" width="1" height="3" fill="#1c0000"/>
<rect x="638" y="87" width="1" height="6" fill="#110000"/>
<rect x="638" y="110" width="1" height="2" fill="#1a0000"/>
<rect x="638" y="114" width="1" height="3" fill="#140000"/>
<rect x="638" y="136" width="1" height="2" fill="#1c0000"/>
<rect x="638" y="150" width="1" height="2" fill="#170000"/>
<rect x="638" y="167" width="1" height="9" fill="#1b0000"/>
<rect x="638" y="180" width="1" height="5" fill="#120000"/>
<rect x="638" y="190" width="1" height="5" fill="#180000"/>
<rect x="638" y="210" width="1" height="7" fill="#150000"/>
<rect x="638" y="218" width="1" height="8" fill="#130000"/>
<rect x="638" y="232" width="1" height="4" fill="#150000"/>
<rect x="638" y="244" width="1" height="9" fill="#120000"/>
<rect x="638" y="269" width="1" height="9" fill="#200000"/>
<rect x="638" y="280" width="1" height="2" fill="#190000"/>
<rect x="638" y="284" width="1" height="6" fill="#120000"/>
<rect x="638" y="290" width="1" height="3" fill="#180000"/>
<rect x="638" y="296" width="1" height="9" fill="#160000"/>
<rect x="638" y="323" width="1" height="8" fill="#1f0000"/>
<rect x="638" y="349" width="1" height="4" fill="#190000"/>
<rect x="638" y="373" width="1" height="7" fill="#170000"/>
<rect x="638" y="380" width="1" height="4" fill="#160000"/>
<rect x="638" y="438" width="1" height="5" fill="#120000"/>
<rect x="638" y="444" width="1" height="7" fill="#1d0000"/>
<rect x="638" y="451" width="1" height="2" fill="#1b0000"/>
<rect x="638" y="463" width="1" height="9" fill="#120000"/>
<rect x="638" y="486" width="1" height="6" fill="#1f0000"/>
<rect x="638" y="493" width="1" height="7" fill="#190000"/>
<rect x="638" y="502" width="1" height="2" fill="#140000"/>
<rect x="638" y="515" width="1" height="8" fill="#1e0000"/>
<rect x="638" y="523" width="1" height="4" fill="#170000"/>
<rect x="638" y="527" width="1" height="6" fill="#130000"/>
<rect x="646" y="81" width="2" height="4" fill="#1a0000"/>
<rect x="646" y="92" width="2" height="2" fill="#270000"/>
<rect x="646" y="107" width="2" height="6" fill="#240000"/>
<rect x="646" y="114" width="2" height="3" fill="#130000"/>
<rect x="646" y="121" width="2" height="2" fill="#180000"/>
<rect x="646" y="126" width="2" height="5" fill="#1a0000"/>
<rect x="646" y="133" width="2" height="3" fill="#230000"/>
<rect x="646" y="156" width="2" height="6" fill="#1b0000"/>
<rect x="646" y="163" width="2" height="8" fill="#120000"/>
<rect x="646" y="172" width="2" height="8" fill="#260000"/>
<rect x="646" y="184" width="2" height="9" fill="#1f0000"/>
<rect x="646" y="212" width="2" height="5" fill="#140000"/>
<rect x="646" y="217" width="2" height="9" fill="#270000"/>
<rect x="646" y="229" width="2" height="2" fill="#140000"/>
<rect x="646" y="251" width="2" height="5" fill="#130000"/>
<rect x="646" y="258" width="2" height="9" fill="#2c0000"/>
<rect x="646" y="269" width="2" height="7" fill="#150000"/>
<rect x="646" y="278" width="2" height="4" fill="#200000"/>
<rect x="646" y="284" width="2" height="8" fill="#140000"/>
<rect x="646" y="292" width="2" height="7" fill="#1c0000"/>
<rect x="646" y="312" width="2" height="9" fill="#200000"/>
<rect x="646" y="324" width="2" height="8" fill="#280000"/>
<rect x="646" y="334" width="2" height="4" fill="#270000"/>
<rect x="646" y="343" width="2" height="7" fill="#280000"/>
<rect x="646" y="378" width="2" height="6" fill="#270000"/>
<rect x="646" y="400" width="2" height="8" fill="#190000"/>
<rect x="646" y="409" width="2" height="3" fill="#200000"/>
<rect x="646" y="427" width="2" height="2" fill="#280000"/>
<rect x="646" y="435" width="2" height="4" fill="#1b0000"/>
<rect x="646" y="439" width="2" height="8" fill="#190000"/>
<rect x="646" y="449" width="2" height="3" fill="#240000"/>
<rect x="646" y="452" width="2" height="6" fill="#220000"/>
<rect x="646" y="472" width="2" height="9" fill="#1e0000"/>
<rect x="646" y="484" width="2" height="9" fill="#1a0000"/>
<rect x="646" y="500" width="2" height="4" fill="#1a0000"/>
<rect x="646" y="507" width="2" height="9" fill="#2a0000"/>
<rect x="646" y="538" width="2" height="5" fill="#260000"/>
<rect x="646" y="546" width="2" height="5" fill="#240000"/>
<rect x="646" y="552" width="2" height="3" fill="#140000"/>
<rect x="660" y="89" width="1" height="6" fill="#120000"/>
<rect x="660" y="101" width="1" height="5" fill="#1c0000"/>
<rect x="660" y="108" width="1" height="6" fill="#1c0000"/>
<rect x="660" y="116" width="1" height="8" fill="#1b0000"/>
<rect x="660" y="124" width="1" height="6" fill="#160000"/>
<rect x="660" y="143" width="1" height="3" fill="#1a0000"/>
<rect x="660" y="161" width="1" height="4" fill="#140000"/>
<rect x="660" y="181" width="1" height="3" fill="#1e0000"/>
<rect x="660" y="191" width="1" height="5" fill="#130000"/>
<rect x="660" y="204" width="1" height="7" fill="#170000"/>
<rect x="660" y="225" width="1" height="6" fill="#140000"/>
<rect x="660" y="234" width="1" height="6" fill="#140000"/>
<rect x="660" y="253" width="1" height="3" fill="#180000"/>
<rect x="660" y="262" width="1" height="8" fill="#150000"/>
<rect x="660" y="273" width="1" height="2" fill="#140000"/>
<rect x="660" y="281" width="1" height="5" fill="#1d0000"/>
<rect x="660" y="288" width="1" height="7" fill="#1c0000"/>
<rect x="660" y="295" width="1" height="2" fill="#1a0000"/>
<rect x="660" y="297" width="1" height="3" fill="#1c0000"/>
<rect x="660" y="300" width="1" height="9" fill="#180000"/>
<rect x="660" y="325" width="1" height="4" fill="#1d0000"/>
<rect x="660" y="338" width="1" height="9" fill="#1c0000"/>
<rect x="660" y="355" width="1" height="4" fill="#1b0000"/>
<rect x="660" y="422" width="1" height="7" fill="#160000"/>
<rect x="660" y="432" width="1" height="7" fill="#130000"/>
<rect x="660" y="450" width="1" height="4" fill="#190000"/>
<rect x="660" y="456" width="1" height="2" fill="#180000"/>
<rect x="660" y="466" width="1" height="7" fill="#1b0000"/>
<rect x="660" y="498" width="1" height="5" fill="#1e0000"/>
<rect x="660" y="505" width="1" height="4" fill="#170000"/>
<rect x="671" y="81" width="2" height="7" fill="#410000"/>
<rect x="671" y="89" width="2" height="6" fill="#300000"/>
<rect x="671" y="97" width="2" height="7" fill="#230000"/>
<rect x="671" y="106" width="2" height="2" fill="#400000"/>
<rect x="671" y="108" width="2" height="6" fill="#290000"/>
<rect x="671" y="120" width="2" height="2" fill="#2f0000"/>
<rect x="671" y="133" width="2" height="5" fill="#170000"/>
<rect x="671" y="171" width="2" height="5" fill="#1e0000"/>
<rect x="671" y="195" width="2" height="6" fill="#3e0000"/>
<rect x="671" y="204" width="2" height="7" fill="#120000"/>
<rect x="671" y="220" width="2" height="5" fill="#2d0000"/>
<rect x="671" y="234" width="2" height="9" fill="#1a0000"/>
<rect x="671" y="248" width="2" height="7" fill="#370000"/>
<rect x="671" y="258" width="2" height="6" fill="#190000"/>
<rect x="671" y="267" width="2" height="5" fill="#120000"/>
<rect x="671" y="292" width="2" height="7" fill="#260000"/>
<rect x="671" y="300" width="2" height="9" fill="#3a0000"/>
<rect x="671" y="312" width="2" height="6" fill="#270000"/>
<rect x="671" y="325" width="2" height="8" fill="#380000"/>
<rect x="671" y="338" width="2" height="5" fill="#200000"/>
<rect x="671" y="344" width="2" height="5" fill="#3e0000"/>
<rect x="671" y="352" width="2" height="2" fill="#1b0000"/>
<rect x="671" y="357" width="2" height="3" fill="#150000"/>
<rect x="671" y="362" width="2" height="5" fill="#340000"/>
<rect x="671" y="397" width="2" height="7" fill="#210000"/>
<rect x="671" y="424" width="2" height="8" fill="#340000"/>
<rect x="671" y="434" width="2" height="6" fill="#150000"/>
<rect x="671" y="443" width="2" height="4" fill="#120000"/>
<rect x="671" y="448" width="2" height="3" fill="#2c0000"/>
<rect x="671" y="456" width="2" height="6" fill="#3f0000"/>
<rect x="671" y="473" width="2" height="7" fill="#3c0000"/>
<rect x="671" y="486" width="2" height="6" fill="#3a0000"/>
<rect x="671" y="494" width="2" height="7" fill="#1d0000"/>
<rect x="671" y="503" width="2" height="3" fill="#160000"/>
<rect x="671" y="509" width="2" height="6" fill="#3c0000"/>
<rect x="671" y="519" width="2" height="9" fill="#330000"/>
<rect x="671" y="531" width="2" height="9" fill="#2c0000"/>
<rect x="671" y="555" width="2" height="8" fill="#3b0000"/>
<rect x="679" y="90" width="2" height="7" fill="#220000"/>
<rect x="679" y="118" width="2" height="6" fill="#220000"/>
<rect x="679" y="129" width="2" height="6" fill="#1b0000"/>
<rect x="679" y="147" width="2" height="3" fill="#170000"/>
<rect x="679" y="151" width="2" height="9" fill="#240000"/>
<rect x="679" y="167" width="2" height="4" fill="#390000"/>
<rect x="679" y="171" width="2" height="3" fill="#2d0000"/>
<rect x="679" y="189" width="2" height="3" fill="#410000"/>
<rect x="679" y="194" width="2" height="7" fill="#220000"/>
<rect x="679" y="202" width="2" height="8" fill="#130000"/>
<rect x="679" y="211" width="2" height="5" fill="#410000"/>
<rect x="679" y="219" width="2" height="9" fill="#1a0000"/>
<rect x="679" y="248" width="2" height="7" fill="#2a0000"/>
<rect x="679" y="266" width="2" height="6" fill="#120000"/>
<rect x="679" y="272" width="2" height="4" fill="#400000"/>
<rect x="679" y="278" width="2" height="9" fill="#3b0000"/>
<rect x="679" y="287" width="2" height="7" fill="#310000"/>
<rect x="679" y="294" width="2" height="7" fill="#1b0000"/>
<rect x="679" y="301" width="2" height="4" fill="#340000"/>
<rect x="679" y="308" width="2" height="4" fill="#320000"/>
<rect x="679" y="315" width="2" height="7" fill="#1a0000"/>
<rect x="679" y="335" width="2" height="8" fill="#290000"/>
<rect x="679" y="346" width="2" height="2" fill="#390000"/>
<rect x="679" y="348" width="2" height="8" fill="#3d0000"/>
<rect x="679" y="359" width="2" height="2" fill="#2e0000"/>
<rect x="679" y="363" width="2" height="3" fill="#3b0000"/>
<rect x="679" y="367" width="2" height="7" fill="#2c0000"/>
<rect x="679" y="374" width="2" height="9" fill="#170000"/>
<rect x="679" y="383" width="2" height="5" fill="#360000"/>
<rect x="679" y="389" width="2" height="5" fill="#230000"/>
<rect x="679" y="397" width="2" height="7" fill="#310000"/>
<rect x="679" y="407" width="2" height="8" fill="#3f0000"/>
<rect x="679" y="420" width="2" height="8" fill="#240000"/>
<rect x="679" y="430" width="2" height="6" fill="#230000"/>
<rect x="679" y="437" width="2" height="7" fill="#340000"/>
<rect x="679" y="450" width="2" height="6" fill="#390000"/>
<rect x="679" y="456" width="2" height="5" fill="#340000"/>
<rect x="679" y="464" width="2" height="9" fill="#400000"/>
<rect x="679" y="476" width="2" height="9" fill="#2c0000"/>
<rect x="679" y="486" width="2" height="7" fill="#320000"/>
<rect x="679" y="495" width="2" height="7" fill="#3b0000"/>
<rect x="679" y="511" width="2" height="4" fill="#400000"/>
<rect x="679" y="517" width="2" height="4" fill="#370000"/>
<rect x="679" y="524" width="2" height="9" fill="#310000"/>
<rect x="679" y="535" width="2" height="3" fill="#350000"/>
<rect x="679" y="541" width="2" height="4" fill="#3f0000"/>
<rect x="679" y="553" width="2" height="7" fill="#2c0000"/>
<rect x="690" y="81" width="2" height="5" fill="#3c0000"/>
<rect x="690" y="94" width="2" height="8" fill="#360000"/>
<rect x="690" y="105" width="2" height="2" fill="#270000"/>
<rect x="690" y="110" width="2" height="8" fill="#180000"/>
<rect x="690" y="119" width="2" height="8" fill="#2e0000"/>
<rect x="690" y="127" width="2" height="4" fill="#1d0000"/>
<rect x="690" y="132" width="2" height="9" fill="#450000"/>
<rect x="690" y="148" width="2" height="3" fill="#140000"/>
<rect x="690" y="153" width="2" height="4" fill="#210000"/>
<rect x="690" y="166" width="2" height="7" fill="#400000"/>
<rect x="690" y="186" width="2" height="7" fill="#340000"/>
<rect x="690" y="193" width="2" height="6" fill="#4e0000"/>
<rect x="690" y="199" width="2" height="4" fill="#1c0000"/>
<rect x="690" y="203" width="2" height="3" fill="#480000"/>
<rect x="690" y="206" width="2" height="9" fill="#2c0000"/>
<rect x="690" y="218" width="2" height="8" fill="#4e0000"/>
<rect x="690" y="228" width="2" height="8" fill="#2b0000"/>
<rect x="690" y="238" width="2" height="7" fill="#170000"/>
<rect x="690" y="288" width="2" height="7" fill="#510000"/>
<rect x="690" y="297" width="2" height="8" fill="#4e0000"/>
<rect x="690" y="306" width="2" height="9" fill="#300000"/>
<rect x="690" y="318" width="2" height="3" fill="#3f0000"/>
<rect x="690" y="322" width="2" height="6" fill="#270000"/>
<rect x="690" y="328" width="2" height="5" fill="#360000"/>
<rect x="690" y="336" width="2" height="9" fill="#3c0000"/>
<rect x="690" y="356" width="2" height="5" fill="#240000"/>
<rect x="690" y="363" width="2" height="3" fill="#500000"/>
<rect x="690" y="366" width="2" height="3" fill="#2e0000"/>
<rect x="690" y="372" width="2" height="9" fill="#1d0000"/>
<rect x="690" y="388" width="2" height="9" fill="#480000"/>
<rect x="690" y="397" width="2" height="6" fill="#200000"/>
<rect x="690" y="406" width="2" height="9" fill="#420000"/>
<rect x="690" y="415" width="2" height="3" fill="#2a0000"/>
<rect x="690" y="418" width="2" height="5" fill="#300000"/>
<rect x="690" y="423" width="2" height="3" fill="#160000"/>
<rect x="690" y="439" width="2" height="7" fill="#210000"/>
<rect x="690" y="449" width="2" height="2" fill="#470000"/>
<rect x="690" y="465" width="2" height="4" fill="#550000"/>
<rect x="690" y="470" width="2" height="3" fill="#3b0000"/>
<rect x="690" y="475" width="2" height="3" fill="#4d0000"/>
<rect x="690" y="478" width="2" height="4" fill="#330000"/>
<rect x="690" y="485" width="2" height="4" fill="#2e0000"/>
<rect x="690" y="489" width="2" height="7" fill="#460000"/>
<rect x="690" y="499" width="2" height="2" fill="#260000"/>
<rect x="690" y="513" width="2" height="4" fill="#140000"/>
<rect x="690" y="519" width="2" height="5" fill="#360000"/>
<rect x="690" y="527" width="2" height="3" fill="#3c0000"/>
<rect x="690" y="532" width="2" height="6" fill="#3d0000"/>
<rect x="690" y="539" width="2" height="8" fill="#4d0000"/>
<rect x="690" y="549" width="2" height="2" fill="#310000"/>
<rect x="690" y="553" width="2" height="3" fill="#360000"/>
<rect x="693" y="86" width="1" height="3" fill="#4b0000"/>
<rect x="693" y="91" width="1" height="3" fill="#470000"/>
<rect x="693" y="97" width="1" height="3" fill="#340000"/>
<rect x="693" y="100" width="1" height="8" fill="#370000"/>
<rect x="693" y="109" width="1" height="3" fill="#190000"/>
<rect x="693" y="114" width="1" height="3" fill="#130000"/>
<rect x="693" y="136" width="1" height="7" fill="#430000"/>
<rect x="693" y="149" width="1" height="2" fill="#2e0000"/>
<rect x="693" y="165" width="1" height="6" fill="#440000"/>
<rect x="693" y="173" width="1" height="8" fill="#200000"/>
<rect x="693" y="184" width="1" height="2" fill="#120000"/>
<rect x="693" y="189" width="1" height="6" fill="#420000"/>
<rect x="693" y="208" width="1" height="4" fill="#180000"/>
<rect x="693" y="215" width="1" height="3" fill="#1d0000"/>
<rect x="693" y="218" width="1" height="3" fill="#270000"/>
<rect x="693" y="221" width="1" height="3" fill="#340000"/>
<rect x="693" y="226" width="1" height="5" fill="#370000"/>
<rect x="693" y="239" width="1" height="9" fill="#310000"/>
<rect x="693" y="251" width="1" height="3" fill="#220000"/>
<rect x="693" y="257" width="1" height="4" fill="#170000"/>
<rect x="693" y="262" width="1" height="9" fill="#490000"/>
<rect x="693" y="274" width="1" height="3" fill="#140000"/>
<rect x="693" y="277" width="1" height="5" fill="#1c0000"/>
<rect x="693" y="282" width="1" height="4" fill="#2c0000"/>
<rect x="693" y="287" width="1" height="5" fill="#370000"/>
<rect x="693" y="295" width="1" height="4" fill="#2b0000"/>
<rect x="693" y="302" width="1" height="5" fill="#3c0000"/>
<rect x="693" y="310" width="1" height="2" fill="#290000"/>
<rect x="693" y="315" width="1" height="2" fill="#470000"/>
<rect x="693" y="320" width="1" height="6" fill="#1a0000"/>
<rect x="693" y="329" width="1" height="2" fill="#1b0000"/>
<rect x="693" y="349" width="1" height="7" fill="#230000"/>
<rect x="693" y="357" width="1" height="7" fill="#4d0000"/>
<rect x="693" y="364" width="1" height="4" fill="#320000"/>
<rect x="693" y="371" width="1" height="4" fill="#190000"/>
<rect x="693" y="375" width="1" height="2" fill="#370000"/>
<rect x="693" y="392" width="1" height="7" fill="#1b0000"/>
<rect x="693" y="401" width="1" height="7" fill="#320000"/>
<rect x="693" y="409" width="1" height="9" fill="#3a0000"/>
<rect x="693" y="424" width="1" height="7" fill="#310000"/>
<rect x="693" y="434" width="1" height="3" fill="#240000"/>
<rect x="693" y="437" width="1" height="8" fill="#130000"/>
<rect x="693" y="448" width="1" height="8" fill="#410000"/>
<rect x="693" y="460" width="1" height="6" fill="#350000"/>
<rect x="693" y="468" width="1" height="3" fill="#4a0000"/>
<rect x="693" y="473" width="1" height="6" fill="#1e0000"/>
<rect x="693" y="490" width="1" height="5" fill="#1b0000"/>
<rect x="693" y="500" width="1" height="2" fill="#3b0000"/>
<rect x="693" y="505" width="1" height="8" fill="#2d0000"/>
<rect x="693" y="513" width="1" height="9" fill="#140000"/>
<rect x="693" y="522" width="1" height="4" fill="#260000"/>
<rect x="693" y="533" width="1" height="8" fill="#150000"/>
<rect x="693" y="544" width="1" height="3" fill="#4a0000"/>
<rect x="693" y="548" width="1" height="8" fill="#160000"/>
<rect x="710" y="102" width="1" height="8" fill="#1d0000"/>
<rect x="710" y="150" width="1" height="5" fill="#1a0000"/>
<rect x="710" y="196" width="1" height="5" fill="#190000"/>
<rect x="710" y="212" width="1" height="3" fill="#170000"/>
<rect x="710" y="216" width="1" height="8" fill="#170000"/>
<rect x="710" y="225" width="1" height="7" fill="#170000"/>
<rect x="710" y="270" width="1" height="3" fill="#180000"/>
<rect x="710" y="275" width="1" height="9" fill="#130000"/>
<rect x="710" y="297" width="1" height="8" fill="#140000"/>
<rect x="710" y="308" width="1" height="8" fill="#130000"/>
<rect x="710" y="369" width="1" height="8" fill="#150000"/>
<rect x="710" y="388" width="1" height="2" fill="#1d0000"/>
<rect x="710" y="395" width="1" height="7" fill="#150000"/>
<rect x="710" y="441" width="1" height="8" fill="#150000"/>
<rect x="710" y="449" width="1" height="2" fill="#180000"/>
<rect x="710" y="465" width="1" height="7" fill="#130000"/>
<rect x="710" y="512" width="1" height="6" fill="#1e0000"/>
<rect x="726" y="81" width="2" height="8" fill="#160000"/>
<rect x="726" y="99" width="2" height="7" fill="#130000"/>
<rect x="726" y="109" width="2" height="8" fill="#1c0000"/>
<rect x="726" y="128" width="2" height="8" fill="#140000"/>
<rect x="726" y="138" width="2" height="6" fill="#140000"/>
<rect x="726" y="161" width="2" height="9" fill="#150000"/>
<rect x="726" y="172" width="2" height="2" fill="#210000"/>
<rect x="726" y="174" width="2" height="9" fill="#200000"/>
<rect x="726" y="195" width="2" height="2" fill="#120000"/>
<rect x="726" y="198" width="2" height="6" fill="#150000"/>
<rect x="726" y="207" width="2" height="3" fill="#240000"/>
<rect x="726" y="219" width="2" height="2" fill="#160000"/>
<rect x="726" y="223" width="2" height="6" fill="#240000"/>
<rect x="726" y="232" width="2" height="4" fill="#1b0000"/>
<rect x="726" y="236" width="2" height="2" fill="#1e0000"/>
<rect x="726" y="241" width="2" height="3" fill="#1d0000"/>
<rect x="726" y="254" width="2" height="4" fill="#200000"/>
<rect x="726" y="258" width="2" height="9" fill="#160000"/>
<rect x="726" y="274" width="2" height="4" fill="#1d0000"/>
<rect x="726" y="293" width="2" height="6" fill="#180000"/>
<rect x="726" y="299" width="2" height="2" fill="#190000"/>
<rect x="726" y="342" width="2" height="5" fill="#170000"/>
<rect x="726" y="356" width="2" height="8" fill="#210000"/>
<rect x="726" y="372" width="2" height="9" fill="#180000"/>
<rect x="726" y="428" width="2" height="6" fill="#180000"/>
<rect x="726" y="445" width="2" height="7" fill="#1d0000"/>
<rect x="726" y="477" width="2" height="3" fill="#210000"/>
<rect x="726" y="491" width="2" height="9" fill="#200000"/>
<rect x="726" y="518" width="2" height="6" fill="#230000"/>
<rect x="740" y="88" width="1" height="9" fill="#160000"/>
<rect x="740" y="100" width="1" height="5" fill="#140000"/>
<rect x="740" y="160" width="1" height="5" fill="#160000"/>
<rect x="740" y="166" width="1" height="6" fill="#120000"/>
<rect x="740" y="180" width="1" height="2" fill="#180000"/>
<rect x="740" y="195" width="1" height="5" fill="#180000"/>
<rect x="740" y="212" width="1" height="7" fill="#130000"/>
<rect x="740" y="314" width="1" height="3" fill="#190000"/>
<rect x="740" y="319" width="1" height="6" fill="#1d0000"/>
<rect x="740" y="342" width="1" height="8" fill="#1b0000"/>
<rect x="740" y="357" width="1" height="8" fill="#120000"/>
<rect x="740" y="367" width="1" height="5" fill="#140000"/>
<rect x="740" y="388" width="1" height="8" fill="#1b0000"/>
<rect x="740" y="412" width="1" height="7" fill="#190000"/>
<rect x="740" y="429" width="1" height="8" fill="#120000"/>
<rect x="740" y="442" width="1" height="4" fill="#180000"/>
<rect x="740" y="456" width="1" height="8" fill="#150000"/>
<rect x="740" y="476" width="1" height="4" fill="#190000"/>
<rect x="740" y="539" width="1" height="9" fill="#1c0000"/>
<rect x="740" y="548" width="1" height="6" fill="#130000"/>
<rect x="740" y="554" width="1" height="2" fill="#1e0000"/>
<rect x="750" y="81" width="2" height="8" fill="#240000"/>
<rect x="750" y="92" width="2" height="6" fill="#260000"/>
<rect x="750" y="107" width="2" height="6" fill="#150000"/>
<rect x="750" y="116" width="2" height="4" fill="#180000"/>
<rect x="750" y="120" width="2" height="8" fill="#270000"/>
<rect x="750" y="130" width="2" height="7" fill="#1c0000"/>
<rect x="750" y="140" width="2" height="8" fill="#200000"/>
<rect x="750" y="152" width="2" height="4" fill="#160000"/>
<rect x="750" y="157" width="2" height="7" fill="#140000"/>
<rect x="750" y="174" width="2" height="5" fill="#180000"/>
<rect x="750" y="182" width="2" height="4" fill="#280000"/>
<rect x="750" y="191" width="2" height="8" fill="#170000"/>
<rect x="750" y="201" width="2" height="6" fill="#170000"/>
<rect x="750" y="209" width="2" height="6" fill="#280000"/>
<rect x="750" y="218" width="2" height="6" fill="#120000"/>
<rect x="750" y="229" width="2" height="7" fill="#1a0000"/>
<rect x="750" y="236" width="2" height="7" fill="#1e0000"/>
<rect x="750" y="247" width="2" height="6" fill="#250000"/>
<rect x="750" y="253" width="2" height="5" fill="#190000"/>
<rect x="750" y="267" width="2" height="3" fill="#270000"/>
<rect x="750" y="270" width="2" height="2" fill="#280000"/>
<rect x="750" y="329" width="2" height="3" fill="#180000"/>
<rect x="750" y="335" width="2" height="6" fill="#2a0000"/>
<rect x="750" y="343" width="2" height="9" fill="#140000"/>
<rect x="750" y="369" width="2" height="5" fill="#2a0000"/>
<rect x="750" y="377" width="2" height="7" fill="#290000"/>
<rect x="750" y="386" width="2" height="2" fill="#220000"/>
<rect x="750" y="388" width="2" height="4" fill="#160000"/>
<rect x="750" y="392" width="2" height="5" fill="#120000"/>
<rect x="750" y="409" width="2" height="4" fill="#230000"/>
<rect x="750" y="424" width="2" height="8" fill="#200000"/>
<rect x="750" y="432" width="2" height="4" fill="#1c0000"/>
<rect x="750" y="438" width="2" height="9" fill="#280000"/>
<rect x="750" y="458" width="2" height="3" fill="#200000"/>
<rect x="750" y="471" width="2" height="4" fill="#2b0000"/>
<rect x="750" y="478" width="2" height="7" fill="#220000"/>
<rect x="750" y="487" width="2" height="7" fill="#1c0000"/>
<rect x="750" y="513" width="2" height="3" fill="#160000"/>
<rect x="750" y="532" width="2" height="9" fill="#140000"/>
<rect x="750" y="544" width="2" height="2" fill="#150000"/>
<rect x="759" y="86" width="2" height="3" fill="#170000"/>
<rect x="759" y="89" width="2" height="5" fill="#200000"/>
<rect x="759" y="97" width="2" height="6" fill="#190000"/>
<rect x="759" y="106" width="2" height="6" fill="#1c0000"/>
<rect x="759" y="121" width="2" height="7" fill="#270000"/>
<rect x="759" y="130" width="2" height="2" fill="#1b0000"/>
<rect x="759" y="135" width="2" height="3" fill="#1f0000"/>
<rect x="759" y="141" width="2" height="2" fill="#240000"/>
<rect x="759" y="168" width="2" height="6" fill="#190000"/>
<rect x="759" y="181" width="2" height="7" fill="#260000"/>
<rect x="759" y="191" width="2" height="8" fill="#160000"/>
<rect x="759" y="200" width="2" height="2" fill="#1e0000"/>
<rect x="759" y="204" width="2" height="8" fill="#170000"/>
<rect x="759" y="225" width="2" height="3" fill="#190000"/>
<rect x="759" y="231" width="2" height="3" fill="#170000"/>
<rect x="759" y="236" width="2" height="9" fill="#2c0000"/>
<rect x="759" y="271" width="2" height="6" fill="#210000"/>
<rect x="759" y="277" width="2" height="3" fill="#2c0000"/>
<rect x="759" y="299" width="2" height="2" fill="#170000"/>
<rect x="759" y="307" width="2" height="9" fill="#1d0000"/>
<rect x="759" y="318" width="2" height="4" fill="#140000"/>
<rect x="759" y="334" width="2" height="5" fill="#1d0000"/>
<rect x="759" y="378" width="2" height="4" fill="#150000"/>
<rect x="759" y="401" width="2" height="7" fill="#1b0000"/>
<rect x="759" y="410" width="2" height="6" fill="#120000"/>
<rect x="759" y="417" width="2" height="2" fill="#190000"/>
<rect x="759" y="420" width="2" height="3" fill="#2a0000"/>
<rect x="759" y="433" width="2" height="8" fill="#2b0000"/>
<rect x="759" y="454" width="2" height="6" fill="#140000"/>
<rect x="759" y="472" width="2" height="7" fill="#130000"/>
<rect x="759" y="482" width="2" height="9" fill="#140000"/>
<rect x="759" y="515" width="2" height="3" fill="#290000"/>
<rect x="759" y="519" width="2" height="5" fill="#120000"/>
<rect x="759" y="530" width="2" height="2" fill="#130000"/>
<rect x="759" y="552" width="2" height="8" fill="#200000"/>
<rect x="772" y="81" width="1" height="4" fill="#180000"/>
<rect x="772" y="87" width="1" height="5" fill="#1d0000"/>
<rect x="772" y="92" width="1" height="5" fill="#1c0000"/>
<rect x="772" y="100" width="1" height="3" fill="#190000"/>
<rect x="772" y="130" width="1" height="3" fill="#160000"/>
<rect x="772" y="135" width="1" height="9" fill="#130000"/>
<rect x="772" y="162" width="1" height="6" fill="#130000"/>
<rect x="772" y="171" width="1" height="8" fill="#160000"/>
<rect x="772" y="180" width="1" height="2" fill="#150000"/>
<rect x="772" y="185" width="1" height="6" fill="#1a0000"/>
<rect x="772" y="221" width="1" height="4" fill="#130000"/>
<rect x="772" y="350" width="1" height="6" fill="#120000"/>
<rect x="772" y="395" width="1" height="7" fill="#1d0000"/>
<rect x="772" y="444" width="1" height="9" fill="#120000"/>
<rect x="772" y="496" width="1" height="7" fill="#1b0000"/>
<rect x="772" y="512" width="1" height="3" fill="#170000"/>
<rect x="772" y="516" width="1" height="8" fill="#140000"/>
<rect x="772" y="535" width="1" height="4" fill="#140000"/>
<rect x="772" y="554" width="1" height="6" fill="#1c0000"/>
</g>
<g filter="url(#b4)">
<ellipse cx="156.0" cy="341.2" rx="5.5" ry="6.9" fill="#360000"/>
<ellipse cx="133.5" cy="350.2" rx="6.1" ry="8.0" fill="#2d0000"/>
<ellipse cx="125.9" cy="355.0" rx="6.5" ry="4.2" fill="#300000"/>
<ellipse cx="200.5" cy="358.9" rx="6.3" ry="7.1" fill="#560000"/>
<ellipse cx="131.2" cy="364.5" rx="4.0" ry="5.2" fill="#210000"/>
<ellipse cx="120.5" cy="356.8" rx="5.2" ry="8.2" fill="#260000"/>
<ellipse cx="161.6" cy="350.8" rx="5.3" ry="5.4" fill="#3d0000"/>
<ellipse cx="201.8" cy="349.6" rx="7.2" ry="7.5" fill="#570000"/>
<ellipse cx="144.5" cy="356.7" rx="6.8" ry="6.0" fill="#270000"/>
<ellipse cx="189.1" cy="361.7" rx="7.8" ry="8.2" fill="#430000"/>
<ellipse cx="118.0" cy="359.8" rx="7.9" ry="6.0" fill="#250000"/>
<ellipse cx="124.1" cy="370.9" rx="6.9" ry="5.3" fill="#2b0000"/>
<ellipse cx="125.3" cy="347.0" rx="3.6" ry="5.2" fill="#2f0000"/>
<ellipse cx="126.5" cy="371.7" rx="7.0" ry="4.9" fill="#1f0000"/>
<ellipse cx="165.0" cy="351.7" rx="3.7" ry="7.2" fill="#400000"/>
<ellipse cx="127.8" cy="357.5" rx="4.1" ry="5.3" fill="#280000"/>
<ellipse cx="199.6" cy="358.0" rx="4.1" ry="6.0" fill="#530000"/>
<ellipse cx="189.8" cy="350.4" rx="3.5" ry="8.9" fill="#490000"/>
<ellipse cx="135.9" cy="355.4" rx="4.5" ry="4.4" fill="#290000"/>
<ellipse cx="125.6" cy="368.0" rx="4.2" ry="7.0" fill="#2b0000"/>
<ellipse cx="149.2" cy="339.1" rx="5.9" ry="8.3" fill="#330000"/>
<ellipse cx="133.4" cy="361.1" rx="7.5" ry="8.1" fill="#240000"/>
<ellipse cx="139.0" cy="360.2" rx="4.0" ry="8.8" fill="#3a0000"/>
<ellipse cx="192.1" cy="366.7" rx="5.1" ry="4.5" fill="#490000"/>
<ellipse cx="121.3" cy="361.0" rx="4.3" ry="8.1" fill="#2c0000"/>
<ellipse cx="168.1" cy="354.8" rx="3.9" ry="7.6" fill="#370000"/>
<ellipse cx="123.8" cy="357.2" rx="6.1" ry="5.4" fill="#310000"/>
<ellipse cx="195.1" cy="364.9" rx="3.1" ry="5.3" fill="#410000"/>
<ellipse cx="155.4" cy="360.0" rx="5.9" ry="4.7" fill="#330000"/>
<ellipse cx="148.4" cy="357.6" rx="7.9" ry="7.3" fill="#3d0000"/>
<ellipse cx="176.1" cy="352.7" rx="3.1" ry="8.6" fill="#340000"/>
<ellipse cx="176.9" cy="354.1" rx="3.1" ry="7.2" fill="#4b0000"/>
<ellipse cx="158.5" cy="355.3" rx="3.4" ry="6.7" fill="#440000"/>
<ellipse cx="179.9" cy="349.9" rx="6.7" ry="7.5" fill="#4b0000"/>
<ellipse cx="184.6" cy="361.6" rx="7.5" ry="8.4" fill="#480000"/>
<ellipse cx="153.0" cy="352.7" rx="7.3" ry="6.9" fill="#3c0000"/>
<ellipse cx="170.5" cy="349.2" rx="3.4" ry="7.2" fill="#400000"/>
<ellipse cx="201.4" cy="362.2" rx="6.6" ry="5.9" fill="#540000"/>
<ellipse cx="179.7" cy="349.4" rx="3.4" ry="7.8" fill="#490000"/>
<ellipse cx="120.5" cy="352.3" rx="5.4" ry="5.2" fill="#290000"/>
<ellipse cx="176.7" cy="346.3" rx="4.3" ry="4.1" fill="#4a0000"/>
<ellipse cx="143.3" cy="356.2" rx="4.0" ry="4.8" fill="#350000"/>
<ellipse cx="194.1" cy="351.9" rx="4.6" ry="7.3" fill="#510000"/>
<ellipse cx="134.7" cy="349.6" rx="7.0" ry="8.6" fill="#2b0000"/>
<ellipse cx="191.9" cy="349.1" rx="3.7" ry="6.5" fill="#420000"/>
<ellipse cx="188.3" cy="362.1" rx="6.6" ry="8.8" fill="#4e0000"/>
<ellipse cx="141.3" cy="359.7" rx="4.1" ry="6.1" fill="#2b0000"/>
<ellipse cx="170.6" cy="362.7" rx="4.6" ry="8.2" fill="#3d0000"/>
<ellipse cx="200.5" cy="353.4" rx="7.4" ry="4.2" fill="#3f0000"/>
<ellipse cx="177.5" cy="356.8" rx="4.5" ry="8.0" fill="#420000"/>
<ellipse cx="233.5" cy="358.5" rx="6.3" ry="6.2" fill="#290000"/>
<ellipse cx="243.3" cy="359.5" rx="5.5" ry="7.2" fill="#2a0000"/>
<ellipse cx="282.4" cy="342.8" rx="5.7" ry="6.0" fill="#520000"/>
<ellipse cx="270.0" cy="338.5" rx="3.0" ry="7.4" fill="#2f0000"/>
<ellipse cx="289.1" cy="355.1" rx="5.8" ry="7.6" fill="#370000"/>
<ellipse cx="281.2" cy="358.5" rx="4.6" ry="9.0" fill="#490000"/>
<ellipse cx="304.5" cy="369.8" rx="3.5" ry="7.3" fill="#470000"/>
<ellipse cx="282.0" cy="362.9" rx="4.5" ry="7.8" fill="#500000"/>
<ellipse cx="302.3" cy="358.3" rx="5.6" ry="6.0" fill="#3c0000"/>
<ellipse cx="289.8" cy="331.3" rx="5.6" ry="8.6" fill="#4c0000"/>
<ellipse cx="249.1" cy="372.4" rx="5.1" ry="9.0" fill="#530000"/>
<ellipse cx="257.6" cy="337.2" rx="6.4" ry="6.7" fill="#500000"/>
<ellipse cx="238.6" cy="341.4" rx="4.9" ry="5.1" fill="#490000"/>
<ellipse cx="296.7" cy="356.1" rx="6.2" ry="5.9" fill="#2a0000"/>
<ellipse cx="258.8" cy="353.2" rx="5.1" ry="8.6" fill="#2e0000"/>
<ellipse cx="299.2" cy="347.2" rx="6.8" ry="7.5" fill="#460000"/>
<ellipse cx="307.9" cy="357.5" rx="4.2" ry="8.6" fill="#3f0000"/>
<ellipse cx="283.1" cy="355.3" rx="6.4" ry="7.8" fill="#3f0000"/>
<ellipse cx="256.9" cy="339.2" rx="3.8" ry="9.3" fill="#4f0000"/>
<ellipse cx="309.5" cy="363.8" rx="5.3" ry="6.0" fill="#3f0000"/>
<ellipse cx="274.9" cy="339.7" rx="6.9" ry="7.6" fill="#290000"/>
<ellipse cx="264.0" cy="351.8" rx="5.3" ry="7.5" fill="#4b0000"/>
<ellipse cx="287.3" cy="362.2" rx="6.8" ry="9.6" fill="#3a0000"/>
<ellipse cx="253.5" cy="356.5" rx="3.5" ry="7.2" fill="#3c0000"/>
<ellipse cx="297.3" cy="360.3" rx="3.8" ry="8.1" fill="#350000"/>
<ellipse cx="306.0" cy="346.0" rx="6.1" ry="5.1" fill="#2d0000"/>
<ellipse cx="247.5" cy="354.0" rx="4.4" ry="8.1" fill="#360000"/>
<ellipse cx="240.4" cy="365.6" rx="3.5" ry="7.6" fill="#480000"/>
<ellipse cx="252.0" cy="355.6" rx="4.5" ry="7.1" fill="#3b0000"/>
<ellipse cx="274.3" cy="362.5" rx="3.8" ry="8.2" fill="#2f0000"/>
<ellipse cx="283.1" cy="334.7" rx="6.4" ry="6.2" fill="#420000"/>
<ellipse cx="291.3" cy="348.7" rx="6.6" ry="6.6" fill="#4b0000"/>
<ellipse cx="257.2" cy="357.6" rx="6.6" ry="5.7" fill="#530000"/>
<ellipse cx="251.1" cy="349.1" rx="4.0" ry="5.5" fill="#470000"/>
<ellipse cx="298.6" cy="338.0" rx="4.6" ry="8.4" fill="#2d0000"/>
<ellipse cx="233.4" cy="359.5" rx="5.7" ry="9.6" fill="#300000"/>
<ellipse cx="309.5" cy="360.0" rx="5.0" ry="8.4" fill="#490000"/>
<ellipse cx="247.1" cy="359.1" rx="3.4" ry="5.2" fill="#2b0000"/>
<ellipse cx="276.1" cy="340.4" rx="3.7" ry="6.0" fill="#2e0000"/>
<ellipse cx="299.2" cy="350.9" rx="6.7" ry="5.5" fill="#530000"/>
<ellipse cx="237.0" cy="361.6" rx="4.3" ry="7.3" fill="#490000"/>
<ellipse cx="273.2" cy="349.0" rx="5.4" ry="5.1" fill="#3a0000"/>
<ellipse cx="288.1" cy="355.2" rx="6.0" ry="7.0" fill="#3b0000"/>
<ellipse cx="247.6" cy="347.3" rx="5.1" ry="5.1" fill="#2f0000"/>
<ellipse cx="303.5" cy="356.5" rx="5.5" ry="7.0" fill="#4d0000"/>
<ellipse cx="292.0" cy="107.6" rx="4.9" ry="6.2" fill="#440000"/>
<ellipse cx="274.9" cy="125.1" rx="4.4" ry="4.6" fill="#390000"/>
<ellipse cx="306.8" cy="104.8" rx="4.1" ry="6.1" fill="#5f0000"/>
<ellipse cx="300.3" cy="105.3" rx="3.0" ry="4.9" fill="#400000"/>
<ellipse cx="262.5" cy="127.4" rx="3.9" ry="5.5" fill="#1f0000"/>
<ellipse cx="273.6" cy="125.5" rx="4.0" ry="5.3" fill="#2a0000"/>
<ellipse cx="288.7" cy="112.7" rx="5.0" ry="5.6" fill="#3d0000"/>
<ellipse cx="297.1" cy="112.6" rx="3.8" ry="6.0" fill="#3b0000"/>
<ellipse cx="274.8" cy="108.3" rx="2.2" ry="3.8" fill="#2e0000"/>
<ellipse cx="280.8" cy="119.9" rx="3.7" ry="5.0" fill="#430000"/>
<ellipse cx="310.4" cy="108.8" rx="5.0" ry="5.6" fill="#5a0000"/>
<ellipse cx="302.5" cy="114.6" rx="2.1" ry="6.7" fill="#570000"/>
<ellipse cx="270.0" cy="123.7" rx="2.5" ry="5.0" fill="#2a0000"/>
<ellipse cx="292.6" cy="122.3" rx="3.6" ry="5.4" fill="#420000"/>
<ellipse cx="280.3" cy="121.1" rx="4.0" ry="5.2" fill="#300000"/>
<ellipse cx="276.2" cy="118.3" rx="2.7" ry="3.2" fill="#240000"/>
<ellipse cx="269.8" cy="118.0" rx="3.2" ry="6.6" fill="#330000"/>
<ellipse cx="299.4" cy="122.3" rx="2.2" ry="6.6" fill="#590000"/>
<ellipse cx="283.5" cy="120.2" rx="4.9" ry="4.0" fill="#390000"/>
<ellipse cx="288.2" cy="120.8" rx="4.9" ry="6.3" fill="#3e0000"/>
<ellipse cx="292.2" cy="111.0" rx="3.9" ry="4.8" fill="#380000"/>
<ellipse cx="272.2" cy="125.1" rx="3.3" ry="5.7" fill="#220000"/>
<ellipse cx="284.8" cy="117.6" rx="3.7" ry="4.7" fill="#340000"/>
<ellipse cx="300.9" cy="96.7" rx="4.2" ry="4.0" fill="#5b0000"/>
<ellipse cx="267.7" cy="119.3" rx="4.4" ry="5.5" fill="#350000"/>
<ellipse cx="280.0" cy="116.9" rx="3.8" ry="5.5" fill="#380000"/>
<ellipse cx="299.7" cy="116.8" rx="2.7" ry="6.9" fill="#430000"/>
<ellipse cx="307.8" cy="108.8" rx="2.8" ry="4.7" fill="#480000"/>
<ellipse cx="122" cy="464" rx="11" ry="3.5" fill="#800000"/>
<ellipse cx="171" cy="461" rx="11" ry="3" fill="#600000"/>
<polygon points="234.0,363.0 244.4,364.0 257.3,362.5 258.7,350.5 245.6,346.0 234.0,347.0" fill="#8a0000" />
</g>
<g filter="url(#b2)">
<polygon points="339,108 341,81 366,81 368,94 360,99" fill="#5a0000"/>
<ellipse cx="351" cy="101" rx="10" ry="5" fill="#b00000"/>
<ellipse cx="411" cy="84.5" rx="11" ry="4.5" fill="#a00000" transform="rotate(-25 411 84.5)"/>
<ellipse cx="388" cy="95" rx="9" ry="6" fill="#1e0000"/>
</g>
<g filter="url(#b15)">
<polygon points="256.4,362.5 270.4,362.2 285.6,361.2 300.9,358.7 310.0,355.4 308.0,346.6 299.1,347.3 284.4,348.8 269.6,349.8 255.6,351.5" fill="#ff0000" />
<polygon points="334.3,349.3 338.6,350.0 345.6,349.1 356.6,348.1 367.8,346.2 377.8,344.3 390.9,342.5 402.6,340.5 412.9,338.5 424.7,336.2 433.1,333.7 430.9,324.9 422.7,326.4 411.1,328.1 400.6,329.7 389.1,332.1 376.2,334.5 366.2,335.8 355.4,337.1 344.4,338.1 337.4,339.0 333.7,340.3" fill="#ec0000" />
<polygon points="432.1,333.4 441.0,330.3 453.2,326.3 455.8,325.6 452.2,318.4 450.8,319.7 439.0,323.7 429.9,325.6" fill="#780000" />
<polygon points="454.5,326.5 458.8,325.1 466.8,321.4 476.6,317.5 484.2,314.1 491.8,310.1 501.1,305.4 502.9,304.0 499.1,298.0 497.7,298.6 488.2,302.9 480.8,306.9 473.4,309.1 463.2,313.2 455.2,316.9 451.5,318.5" fill="#d80000" />
<polygon points="501.6,304.6 509.5,300.1 514.9,297.1 511.1,291.3 506.5,294.9 498.4,298.4" fill="#880000" />
<polygon points="514.3,298.7 517.3,297.4 525.6,293.5 533.8,288.4 540.0,283.6 546.4,276.9 550.6,271.8 541.4,264.2 537.4,269.1 532.0,275.4 527.4,279.6 520.4,284.5 512.7,288.6 509.7,290.9" fill="#f00000" />
<polygon points="537,276 537.5,266 543.5,258.5 550.5,250 557.5,236 559.5,234.5 560.5,240 560.5,259 557,266.5 551,273 545,277" fill="#f00000"/>
</g>
<g filter="url(#b07)">
<polyline points="569,241 570,230 570.5,220 571,212 573,200 574.5,190 576.5,180 577.3,177 579,161.5 580.3,146 581.5,124 582.2,105 582.4,98" stroke="#900000" stroke-width="2.1" fill="none" stroke-dasharray="9 3 6 4 12 3"/>
<polyline points="572.5,234 573.5,222 576.5,215 579,208 580.5,197 583,188 585,180 586.7,167 587.5,156 587.5,130 587,103" stroke="#a80000" stroke-width="2.5" fill="none" stroke-dasharray="14 2 9 3 20 2"/>
</g>
<rect x="89" y="81" width="699" height="477" filter="url(#tex)"/>
<rect x="135" y="90" width="2" height="3" fill="#126012"/>
<rect x="136" y="96" width="2" height="4" fill="#1a8a1a"/>
<rect x="135" y="122" width="3" height="3" fill="#1a8a1a"/>
<rect x="135" y="141" width="2" height="2" fill="#126012"/>
<rect x="135" y="151" width="3" height="3" fill="#1a8a1a"/>
<rect x="135" y="194" width="2" height="2" fill="#126012"/>
<rect x="135" y="234" width="3" height="3" fill="#1a8a1a"/>
<rect x="135" y="283" width="3" height="2" fill="#126012"/>
<rect x="135" y="300" width="2" height="2" fill="#126012"/>
<rect x="135" y="330" width="2" height="2" fill="#126012"/>
<rect x="135" y="358" width="2" height="2" fill="#126012"/>
<rect x="247" y="169" width="3" height="2" fill="#1a8a1a"/>
<rect x="174" y="351" width="3" height="2" fill="#1a8a1a"/>
<rect x="297" y="162" width="2" height="2" fill="#126012"/>
<rect x="415" y="210" width="2" height="2" fill="#126012"/>
<rect x="270" y="348" width="4" height="6" fill="#22c822"/>
<rect x="304" y="353" width="4" height="4" fill="#22c822"/>
<rect x="263" y="360" width="6" height="4" fill="#22c822"/>
<rect x="269" y="361" width="13" height="3" fill="#22c822"/>
<rect x="282" y="360" width="4" height="3" fill="#22c822"/>
<rect x="290" y="358" width="8" height="3" fill="#22c822"/>
<rect x="297" y="357" width="6" height="3" fill="#22c822"/>
<rect x="234" y="355" width="2" height="2" fill="#1a8a1a"/>
<rect x="234" y="358" width="2" height="2" fill="#1a8a1a"/>
<rect x="243" y="354" width="3" height="2" fill="#1a8a1a"/>
<rect x="253" y="355" width="2" height="2" fill="#1a8a1a"/>
<rect x="253" y="363" width="2" height="2" fill="#1a8a1a"/>
<rect x="263" y="366" width="3" height="2" fill="#126012"/>
<rect x="298" y="369" width="2" height="3" fill="#126012"/>
<rect x="341" y="341" width="5" height="5" fill="#22c822"/>
<rect x="354" y="346" width="3" height="4" fill="#22c822"/>
<rect x="362" y="339" width="4" height="2" fill="#22c822"/>
<rect x="370" y="337" width="4" height="5" fill="#22c822"/>
<rect x="380" y="337" width="3" height="2" fill="#22c822"/>
<rect x="382" y="342" width="4" height="2" fill="#1a8a1a"/>
<rect x="388" y="336" width="3" height="5" fill="#22c822"/>
<rect x="396" y="335" width="3" height="4" fill="#22c822"/>
<rect x="401" y="336" width="2" height="5" fill="#22c822"/>
<rect x="408" y="328" width="3" height="7" fill="#22c822"/>
<rect x="422" y="330" width="3" height="4" fill="#22c822"/>
<rect x="430" y="326" width="3" height="2" fill="#22c822"/>
<rect x="441" y="325" width="3" height="2" fill="#1a8a1a"/>
<rect x="508" y="300" width="2" height="2" fill="#1a8a1a"/>
<rect x="362" y="95" width="5" height="6" fill="#22c822"/>
<rect x="357" y="90" width="3" height="2" fill="#1a8a1a"/>
<rect x="360" y="86" width="3" height="2" fill="#1a8a1a"/>
<rect x="582" y="92" width="2" height="2" fill="#1a8a1a"/>
<rect x="580" y="124" width="3" height="3" fill="#22c822"/>
<rect x="580" y="130" width="3" height="2" fill="#22c822"/>
<rect x="578" y="143" width="3" height="5" fill="#1a8a1a"/>
<rect x="577" y="153" width="2" height="5" fill="#1a8a1a"/>
<rect x="577" y="162" width="2" height="6" fill="#1a8a1a"/>
<rect x="575" y="178" width="3" height="3" fill="#1a8a1a"/>
<rect x="572" y="187" width="4" height="13" fill="#1a8a1a"/>
<rect x="571" y="207" width="2" height="3" fill="#1a8a1a"/>
<rect x="568" y="216" width="2" height="4" fill="#1a8a1a"/>
<rect x="247" y="427" width="3" height="3" fill="#1a8a1a"/>
<rect x="246" y="460" width="3" height="2" fill="#126012"/>
<rect x="173" y="460" width="3" height="2" fill="#1a8a1a"/>
<rect x="547" y="417" width="3" height="5" fill="#1a8a1a"/>
<rect x="543" y="432" width="2" height="3" fill="#1a8a1a"/>
<rect x="542" y="436" width="2" height="2" fill="#1a8a1a"/>
<rect x="540" y="442" width="2" height="2" fill="#1a8a1a"/>
<rect x="605" y="552" width="3" height="3" fill="#126012"/>
<rect x="633" y="472" width="2" height="2" fill="#126012"/>
<rect x="633" y="486" width="2" height="2" fill="#126012"/>
<rect x="632" y="495" width="3" height="3" fill="#126012"/>
</g>
<line x1="159.5" y1="70" x2="159.5" y2="547" stroke="#484848"/>
<line x1="159.5" y1="60" x2="159.5" y2="70" stroke="#000"/>
<line x1="159.5" y1="547" x2="159.5" y2="557" stroke="#000"/>
<line x1="286.5" y1="70" x2="286.5" y2="547" stroke="#484848"/>
<line x1="286.5" y1="60" x2="286.5" y2="70" stroke="#000"/>
<line x1="286.5" y1="547" x2="286.5" y2="557" stroke="#000"/>
<line x1="376.5" y1="70" x2="376.5" y2="547" stroke="#484848"/>
<line x1="376.5" y1="60" x2="376.5" y2="70" stroke="#000"/>
<line x1="376.5" y1="547" x2="376.5" y2="557" stroke="#000"/>
<line x1="445.5" y1="70" x2="445.5" y2="547" stroke="#484848"/>
<line x1="445.5" y1="60" x2="445.5" y2="70" stroke="#000"/>
<line x1="445.5" y1="547" x2="445.5" y2="557" stroke="#000"/>
<line x1="550.5" y1="70" x2="550.5" y2="547" stroke="#484848"/>
<line x1="550.5" y1="60" x2="550.5" y2="70" stroke="#000"/>
<line x1="550.5" y1="547" x2="550.5" y2="557" stroke="#000"/>
<line x1="662.5" y1="70" x2="662.5" y2="547" stroke="#484848"/>
<line x1="662.5" y1="60" x2="662.5" y2="70" stroke="#000"/>
<line x1="662.5" y1="547" x2="662.5" y2="557" stroke="#000"/>
<line x1="80" y1="126.5" x2="779" y2="126.5" stroke="#484848"/>
<line x1="68" y1="126.5" x2="80" y2="126.5" stroke="#000"/>
<line x1="779" y1="126.5" x2="790" y2="126.5" stroke="#000"/>
<line x1="80" y1="192.5" x2="779" y2="192.5" stroke="#484848"/>
<line x1="68" y1="192.5" x2="80" y2="192.5" stroke="#000"/>
<line x1="779" y1="192.5" x2="790" y2="192.5" stroke="#000"/>
<line x1="80" y1="259.5" x2="779" y2="259.5" stroke="#484848"/>
<line x1="68" y1="259.5" x2="80" y2="259.5" stroke="#000"/>
<line x1="779" y1="259.5" x2="790" y2="259.5" stroke="#000"/>
<line x1="80" y1="324.5" x2="779" y2="324.5" stroke="#484848"/>
<line x1="68" y1="324.5" x2="80" y2="324.5" stroke="#000"/>
<line x1="779" y1="324.5" x2="790" y2="324.5" stroke="#000"/>
<line x1="80" y1="390.5" x2="779" y2="390.5" stroke="#484848"/>
<line x1="68" y1="390.5" x2="80" y2="390.5" stroke="#000"/>
<line x1="779" y1="390.5" x2="790" y2="390.5" stroke="#000"/>
<line x1="80" y1="457.5" x2="779" y2="457.5" stroke="#484848"/>
<line x1="68" y1="457.5" x2="80" y2="457.5" stroke="#000"/>
<line x1="779" y1="457.5" x2="790" y2="457.5" stroke="#000"/>
<line x1="80" y1="523.5" x2="779" y2="523.5" stroke="#484848"/>
<line x1="68" y1="523.5" x2="80" y2="523.5" stroke="#000"/>
<line x1="779" y1="523.5" x2="790" y2="523.5" stroke="#000"/>
<line x1="68" y1="557.5" x2="75" y2="557.5" stroke="#000"/>
<line x1="784" y1="557.5" x2="790" y2="557.5" stroke="#000"/>
<line x1="68" y1="550.5" x2="75" y2="550.5" stroke="#000"/>
<line x1="784" y1="550.5" x2="790" y2="550.5" stroke="#000"/>
<line x1="68" y1="543.5" x2="75" y2="543.5" stroke="#000"/>
<line x1="784" y1="543.5" x2="790" y2="543.5" stroke="#000"/>
<line x1="68" y1="537.5" x2="75" y2="537.5" stroke="#000"/>
<line x1="784" y1="537.5" x2="790" y2="537.5" stroke="#000"/>
<line x1="68" y1="530.5" x2="75" y2="530.5" stroke="#000"/>
<line x1="784" y1="530.5" x2="790" y2="530.5" stroke="#000"/>
<line x1="68" y1="517.5" x2="75" y2="517.5" stroke="#000"/>
<line x1="784" y1="517.5" x2="790" y2="517.5" stroke="#000"/>
<line x1="68" y1="510.5" x2="75" y2="510.5" stroke="#000"/>
<line x1="784" y1="510.5" x2="790" y2="510.5" stroke="#000"/>
<line x1="68" y1="504.5" x2="75" y2="504.5" stroke="#000"/>
<line x1="784" y1="504.5" x2="790" y2="504.5" stroke="#000"/>
<line x1="68" y1="497.5" x2="75" y2="497.5" stroke="#000"/>
<line x1="784" y1="497.5" x2="790" y2="497.5" stroke="#000"/>
<line x1="68" y1="490.5" x2="75" y2="490.5" stroke="#000"/>
<line x1="784" y1="490.5" x2="790" y2="490.5" stroke="#000"/>
<line x1="68" y1="484.5" x2="75" y2="484.5" stroke="#000"/>
<line x1="784" y1="484.5" x2="790" y2="484.5" stroke="#000"/>
<line x1="68" y1="477.5" x2="75" y2="477.5" stroke="#000"/>
<line x1="784" y1="477.5" x2="790" y2="477.5" stroke="#000"/>
<line x1="68" y1="470.5" x2="75" y2="470.5" stroke="#000"/>
<line x1="784" y1="470.5" x2="790" y2="470.5" stroke="#000"/>
<line x1="68" y1="464.5" x2="75" y2="464.5" stroke="#000"/>
<line x1="784" y1="464.5" x2="790" y2="464.5" stroke="#000"/>
<line x1="68" y1="451.5" x2="75" y2="451.5" stroke="#000"/>
<line x1="784" y1="451.5" x2="790" y2="451.5" stroke="#000"/>
<line x1="68" y1="444.5" x2="75" y2="444.5" stroke="#000"/>
<line x1="784" y1="444.5" x2="790" y2="444.5" stroke="#000"/>
<line x1="68" y1="437.5" x2="75" y2="437.5" stroke="#000"/>
<line x1="784" y1="437.5" x2="790" y2="437.5" stroke="#000"/>
<line x1="68" y1="431.5" x2="75" y2="431.5" stroke="#000"/>
<line x1="784" y1="431.5" x2="790" y2="431.5" stroke="#000"/>
<line x1="68" y1="424.5" x2="75" y2="424.5" stroke="#000"/>
<line x1="784" y1="424.5" x2="790" y2="424.5" stroke="#000"/>
<line x1="68" y1="417.5" x2="75" y2="417.5" stroke="#000"/>
<line x1="784" y1="417.5" x2="790" y2="417.5" stroke="#000"/>
<line x1="68" y1="411.5" x2="75" y2="411.5" stroke="#000"/>
<line x1="784" y1="411.5" x2="790" y2="411.5" stroke="#000"/>
<line x1="68" y1="404.5" x2="75" y2="404.5" stroke="#000"/>
<line x1="784" y1="404.5" x2="790" y2="404.5" stroke="#000"/>
<line x1="68" y1="398.5" x2="75" y2="398.5" stroke="#000"/>
<line x1="784" y1="398.5" x2="790" y2="398.5" stroke="#000"/>
<line x1="68" y1="384.5" x2="75" y2="384.5" stroke="#000"/>
<line x1="784" y1="384.5" x2="790" y2="384.5" stroke="#000"/>
<line x1="68" y1="378.5" x2="75" y2="378.5" stroke="#000"/>
<line x1="784" y1="378.5" x2="790" y2="378.5" stroke="#000"/>
<line x1="68" y1="371.5" x2="75" y2="371.5" stroke="#000"/>
<line x1="784" y1="371.5" x2="790" y2="371.5" stroke="#000"/>
<line x1="68" y1="364.5" x2="75" y2="364.5" stroke="#000"/>
<line x1="784" y1="364.5" x2="790" y2="364.5" stroke="#000"/>
<line x1="68" y1="358.5" x2="75" y2="358.5" stroke="#000"/>
<line x1="784" y1="358.5" x2="790" y2="358.5" stroke="#000"/>
<line x1="68" y1="351.5" x2="75" y2="351.5" stroke="#000"/>
<line x1="784" y1="351.5" x2="790" y2="351.5" stroke="#000"/>
<line x1="68" y1="345.5" x2="75" y2="345.5" stroke="#000"/>
<line x1="784" y1="345.5" x2="790" y2="345.5" stroke="#000"/>
<line x1="68" y1="338.5" x2="75" y2="338.5" stroke="#000"/>
<line x1="784" y1="338.5" x2="790" y2="338.5" stroke="#000"/>
<line x1="68" y1="331.5" x2="75" y2="331.5" stroke="#000"/>
<line x1="784" y1="331.5" x2="790" y2="331.5" stroke="#000"/>
<line x1="68" y1="318.5" x2="75" y2="318.5" stroke="#000"/>
<line x1="784" y1="318.5" x2="790" y2="318.5" stroke="#000"/>
<line x1="68" y1="311.5" x2="75" y2="311.5" stroke="#000"/>
<line x1="784" y1="311.5" x2="790" y2="311.5" stroke="#000"/>
<line x1="68" y1="305.5" x2="75" y2="305.5" stroke="#000"/>
<line x1="784" y1="305.5" x2="790" y2="305.5" stroke="#000"/>
<line x1="68" y1="298.5" x2="75" y2="298.5" stroke="#000"/>
<line x1="784" y1="298.5" x2="790" y2="298.5" stroke="#000"/>
<line x1="68" y1="292.5" x2="75" y2="292.5" stroke="#000"/>
<line x1="784" y1="292.5" x2="790" y2="292.5" stroke="#000"/>
<line x1="68" y1="285.5" x2="75" y2="285.5" stroke="#000"/>
<line x1="784" y1="285.5" x2="790" y2="285.5" stroke="#000"/>
<line x1="68" y1="278.5" x2="75" y2="278.5" stroke="#000"/>
<line x1="784" y1="278.5" x2="790" y2="278.5" stroke="#000"/>
<line x1="68" y1="272.5" x2="75" y2="272.5" stroke="#000"/>
<line x1="784" y1="272.5" x2="790" y2="272.5" stroke="#000"/>
<line x1="68" y1="265.5" x2="75" y2="265.5" stroke="#000"/>
<line x1="784" y1="265.5" x2="790" y2="265.5" stroke="#000"/>
<line x1="68" y1="252.5" x2="75" y2="252.5" stroke="#000"/>
<line x1="784" y1="252.5" x2="790" y2="252.5" stroke="#000"/>
<line x1="68" y1="245.5" x2="75" y2="245.5" stroke="#000"/>
<line x1="784" y1="245.5" x2="790" y2="245.5" stroke="#000"/>
<line x1="68" y1="239.5" x2="75" y2="239.5" stroke="#000"/>
<line x1="784" y1="239.5" x2="790" y2="239.5" stroke="#000"/>
<line x1="68" y1="232.5" x2="75" y2="232.5" stroke="#000"/>
<line x1="784" y1="232.5" x2="790" y2="232.5" stroke="#000"/>
<line x1="68" y1="225.5" x2="75" y2="225.5" stroke="#000"/>
<line x1="784" y1="225.5" x2="790" y2="225.5" stroke="#000"/>
<line x1="68" y1="219.5" x2="75" y2="219.5" stroke="#000"/>
<line x1="784" y1="219.5" x2="790" y2="219.5" stroke="#000"/>
<line x1="68" y1="212.5" x2="75" y2="212.5" stroke="#000"/>
<line x1="784" y1="212.5" x2="790" y2="212.5" stroke="#000"/>
<line x1="68" y1="205.5" x2="75" y2="205.5" stroke="#000"/>
<line x1="784" y1="205.5" x2="790" y2="205.5" stroke="#000"/>
<line x1="68" y1="199.5" x2="75" y2="199.5" stroke="#000"/>
<line x1="784" y1="199.5" x2="790" y2="199.5" stroke="#000"/>
<line x1="68" y1="185.5" x2="75" y2="185.5" stroke="#000"/>
<line x1="784" y1="185.5" x2="790" y2="185.5" stroke="#000"/>
<line x1="68" y1="179.5" x2="75" y2="179.5" stroke="#000"/>
<line x1="784" y1="179.5" x2="790" y2="179.5" stroke="#000"/>
<line x1="68" y1="172.5" x2="75" y2="172.5" stroke="#000"/>
<line x1="784" y1="172.5" x2="790" y2="172.5" stroke="#000"/>
<line x1="68" y1="166.5" x2="75" y2="166.5" stroke="#000"/>
<line x1="784" y1="166.5" x2="790" y2="166.5" stroke="#000"/>
<line x1="68" y1="159.5" x2="75" y2="159.5" stroke="#000"/>
<line x1="784" y1="159.5" x2="790" y2="159.5" stroke="#000"/>
<line x1="68" y1="152.5" x2="75" y2="152.5" stroke="#000"/>
<line x1="784" y1="152.5" x2="790" y2="152.5" stroke="#000"/>
<line x1="68" y1="146.5" x2="75" y2="146.5" stroke="#000"/>
<line x1="784" y1="146.5" x2="790" y2="146.5" stroke="#000"/>
<line x1="68" y1="139.5" x2="75" y2="139.5" stroke="#000"/>
<line x1="784" y1="139.5" x2="790" y2="139.5" stroke="#000"/>
<line x1="68" y1="132.5" x2="75" y2="132.5" stroke="#000"/>
<line x1="784" y1="132.5" x2="790" y2="132.5" stroke="#000"/>
<line x1="68" y1="119.5" x2="75" y2="119.5" stroke="#000"/>
<line x1="784" y1="119.5" x2="790" y2="119.5" stroke="#000"/>
<line x1="68" y1="113.5" x2="75" y2="113.5" stroke="#000"/>
<line x1="784" y1="113.5" x2="790" y2="113.5" stroke="#000"/>
<line x1="68" y1="106.5" x2="75" y2="106.5" stroke="#000"/>
<line x1="784" y1="106.5" x2="790" y2="106.5" stroke="#000"/>
<line x1="68" y1="99.5" x2="75" y2="99.5" stroke="#000"/>
<line x1="784" y1="99.5" x2="790" y2="99.5" stroke="#000"/>
<line x1="68" y1="93.5" x2="75" y2="93.5" stroke="#000"/>
<line x1="784" y1="93.5" x2="790" y2="93.5" stroke="#000"/>
<line x1="68" y1="86.5" x2="75" y2="86.5" stroke="#000"/>
<line x1="784" y1="86.5" x2="790" y2="86.5" stroke="#000"/>
<line x1="68" y1="79.5" x2="75" y2="79.5" stroke="#000"/>
<line x1="784" y1="79.5" x2="790" y2="79.5" stroke="#000"/>
<line x1="68" y1="73.5" x2="75" y2="73.5" stroke="#000"/>
<line x1="784" y1="73.5" x2="790" y2="73.5" stroke="#000"/>
<line x1="68" y1="66.5" x2="75" y2="66.5" stroke="#000"/>
<line x1="784" y1="66.5" x2="790" y2="66.5" stroke="#000"/>
<rect x="68" y="60" width="2" height="498" fill="#000"/>
<rect x="68" y="60" width="722" height="1" fill="#000"/>
<rect x="789" y="60" width="1" height="498" fill="#000"/>
<rect x="68" y="557" width="722" height="1" fill="#000"/>
<text class="h" transform="translate(52.6,526.6) scale(1.02,1.09)" font-size="18" text-anchor="end" >100</text>
<text class="h" transform="translate(52.6,460.6) scale(1.02,1.09)" font-size="18" text-anchor="end" >200</text>
<text class="h" transform="translate(52.6,393.6) scale(1.02,1.09)" font-size="18" text-anchor="end" >300</text>
<text class="h" transform="translate(52.6,327.6) scale(1.02,1.09)" font-size="18" text-anchor="end" >400</text>
<text class="h" transform="translate(52.6,262.6) scale(1.02,1.09)" font-size="18" text-anchor="end" >500</text>
<text class="h" transform="translate(52.6,195.6) scale(1.02,1.09)" font-size="18" text-anchor="end" >600</text>
<text class="h" transform="translate(52.6,129.6) scale(1.02,1.09)" font-size="18" text-anchor="end" >700</text>
<text class="h" transform="translate(52.6,63.6) scale(1.02,1.09)" font-size="18" text-anchor="end" >800</text>
<text class="h" transform="translate(14.2,308.5) rotate(-90) scale(1.035,1.09)" font-size="18" text-anchor="middle">Range [km]</text>
<text class="h" transform="translate(67.5,584.7) scale(1.02,1.09)" font-size="18" text-anchor="middle" >1.5</text>
<text class="h" transform="translate(157.5,584.7) scale(1.02,1.09)" font-size="18" text-anchor="middle" >2.0</text>
<text class="h" transform="translate(284.5,584.7) scale(1.02,1.09)" font-size="18" text-anchor="middle" >3.0</text>
<text class="h" transform="translate(374.5,584.7) scale(1.02,1.09)" font-size="18" text-anchor="middle" >4.0</text>
<text class="h" transform="translate(443.5,584.7) scale(1.02,1.09)" font-size="18" text-anchor="middle" >5.0</text>
<text class="h" transform="translate(548.5,584.7) scale(1.02,1.09)" font-size="18" text-anchor="middle" >7.0</text>
<text class="h" transform="translate(660.5,584.7) scale(1.02,1.09)" font-size="18" text-anchor="middle" >10.0</text>
<text class="h" transform="translate(787.5,584.7) scale(1.02,1.09)" font-size="18" text-anchor="middle" >15.0</text>
<text class="h" transform="translate(429,612.9) scale(1.012,1.09)" font-size="18" text-anchor="middle" >Frequency [MHz]</text>
<text class="l" transform="translate(30,632.8) scale(1,1)" font-size="13" text-anchor="start" >RxMask 00001111</text>
<text class="l" x="581" y="632.8" font-size="13" textLength="217" lengthAdjust="spacing" xml:space="preserve">VIPIR  PM91K_2012062005703.RIQ</text>
<rect x="807.5" y="77.5" width="20" height="460" fill="url(#gr)" stroke="#000" stroke-width="1"/>
<rect x="871.5" y="77.5" width="20" height="460" fill="url(#gg)" stroke="#000" stroke-width="1"/>
<line x1="807" y1="135.5" x2="815" y2="135.5" stroke="#000"/>
<line x1="820" y1="135.5" x2="828" y2="135.5" stroke="#000"/>
<line x1="871" y1="135.5" x2="879" y2="135.5" stroke="#000"/>
<line x1="884" y1="135.5" x2="892" y2="135.5" stroke="#000"/>
<line x1="807" y1="192.5" x2="815" y2="192.5" stroke="#000"/>
<line x1="820" y1="192.5" x2="828" y2="192.5" stroke="#000"/>
<line x1="871" y1="192.5" x2="879" y2="192.5" stroke="#000"/>
<line x1="884" y1="192.5" x2="892" y2="192.5" stroke="#000"/>
<line x1="807" y1="250.5" x2="815" y2="250.5" stroke="#000"/>
<line x1="820" y1="250.5" x2="828" y2="250.5" stroke="#000"/>
<line x1="871" y1="250.5" x2="879" y2="250.5" stroke="#000"/>
<line x1="884" y1="250.5" x2="892" y2="250.5" stroke="#000"/>
<line x1="807" y1="307.5" x2="815" y2="307.5" stroke="#000"/>
<line x1="820" y1="307.5" x2="828" y2="307.5" stroke="#000"/>
<line x1="871" y1="307.5" x2="879" y2="307.5" stroke="#000"/>
<line x1="884" y1="307.5" x2="892" y2="307.5" stroke="#000"/>
<line x1="807" y1="365.5" x2="815" y2="365.5" stroke="#000"/>
<line x1="820" y1="365.5" x2="828" y2="365.5" stroke="#000"/>
<line x1="871" y1="365.5" x2="879" y2="365.5" stroke="#000"/>
<line x1="884" y1="365.5" x2="892" y2="365.5" stroke="#000"/>
<line x1="807" y1="422.5" x2="815" y2="422.5" stroke="#000"/>
<line x1="820" y1="422.5" x2="828" y2="422.5" stroke="#000"/>
<line x1="871" y1="422.5" x2="879" y2="422.5" stroke="#000"/>
<line x1="884" y1="422.5" x2="892" y2="422.5" stroke="#000"/>
<line x1="807" y1="480.5" x2="815" y2="480.5" stroke="#000"/>
<line x1="820" y1="480.5" x2="828" y2="480.5" stroke="#000"/>
<line x1="871" y1="480.5" x2="879" y2="480.5" stroke="#000"/>
<line x1="884" y1="480.5" x2="892" y2="480.5" stroke="#000"/>
<text class="l" transform="translate(841,82.1) scale(1,1)" font-size="16" text-anchor="start" >40</text>
<text class="l" transform="translate(905,81.6) scale(1,1)" font-size="16" text-anchor="start" >40</text>
<text class="l" transform="translate(841,139.6) scale(1,1)" font-size="16" text-anchor="start" >35</text>
<text class="l" transform="translate(905,139.1) scale(1,1)" font-size="16" text-anchor="start" >35</text>
<text class="l" transform="translate(841,197.1) scale(1,1)" font-size="16" text-anchor="start" >30</text>
<text class="l" transform="translate(905,196.6) scale(1,1)" font-size="16" text-anchor="start" >30</text>
<text class="l" transform="translate(841,254.6) scale(1,1)" font-size="16" text-anchor="start" >25</text>
<text class="l" transform="translate(905,254.1) scale(1,1)" font-size="16" text-anchor="start" >25</text>
<text class="l" transform="translate(841,312.1) scale(1,1)" font-size="16" text-anchor="start" >20</text>
<text class="l" transform="translate(905,311.6) scale(1,1)" font-size="16" text-anchor="start" >20</text>
<text class="l" transform="translate(841,369.6) scale(1,1)" font-size="16" text-anchor="start" >15</text>
<text class="l" transform="translate(905,369.1) scale(1,1)" font-size="16" text-anchor="start" >15</text>
<text class="l" transform="translate(841,427.1) scale(1,1)" font-size="16" text-anchor="start" >10</text>
<text class="l" transform="translate(905,426.6) scale(1,1)" font-size="16" text-anchor="start" >10</text>
<text class="l" transform="translate(841,484.6) scale(1,1)" font-size="16" text-anchor="start" >5</text>
<text class="l" transform="translate(905,484.1) scale(1,1)" font-size="16" text-anchor="start" >5</text>
<text class="l" transform="translate(841,542.1) scale(1,1)" font-size="16" text-anchor="start" >0</text>
<text class="l" transform="translate(905,541.6) scale(1,1)" font-size="16" text-anchor="start" >0</text>
<text class="h" transform="translate(807.2,64.6) scale(0.98,1.03)" font-size="18.5" text-anchor="start" >O</text>
<text class="h" transform="translate(878.8,64.8) scale(1.1,1.05)" font-size="18.5" text-anchor="start" >X</text>
</svg></body></html>
